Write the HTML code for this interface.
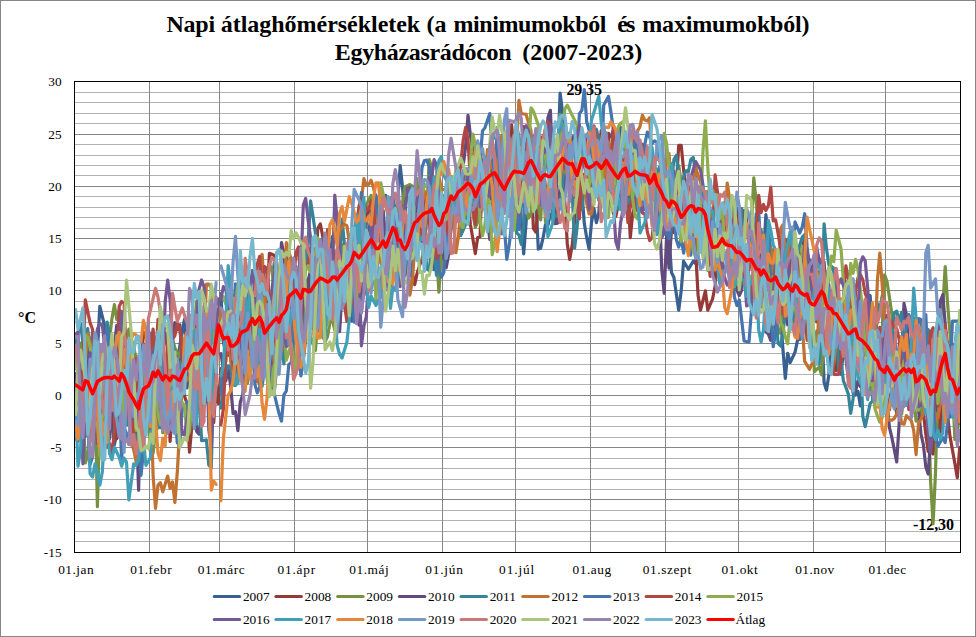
<!DOCTYPE html><html><head><meta charset="utf-8"><title>Napi átlaghőmérsékletek</title>
<style>html,body{margin:0;padding:0;background:#fff}svg{display:block}text{font-family:"Liberation Serif",serif;fill:#000}</style></head><body>
<svg width="976" height="637" viewBox="0 0 976 637">
<rect x="0" y="0" width="976" height="637" fill="#fff"/>
<rect x="0.5" y="0.5" width="975" height="636" fill="none" stroke="#868686" stroke-width="1"/>
<path d="M74.5 541.5H960.5M74.5 531.5H960.5M74.5 520.5H960.5M74.5 510.5H960.5M74.5 489.5H960.5M74.5 479.5H960.5M74.5 468.5H960.5M74.5 458.5H960.5M74.5 437.5H960.5M74.5 426.5H960.5M74.5 416.5H960.5M74.5 405.5H960.5M74.5 384.5H960.5M74.5 374.5H960.5M74.5 364.5H960.5M74.5 353.5H960.5M74.5 332.5H960.5M74.5 322.5H960.5M74.5 311.5H960.5M74.5 301.5H960.5M74.5 280.5H960.5M74.5 270.5H960.5M74.5 259.5H960.5M74.5 249.5H960.5M74.5 228.5H960.5M74.5 217.5H960.5M74.5 207.5H960.5M74.5 196.5H960.5M74.5 175.5H960.5M74.5 165.5H960.5M74.5 155.5H960.5M74.5 144.5H960.5M74.5 123.5H960.5M74.5 113.5H960.5M74.5 102.5H960.5M74.5 92.5H960.5" stroke="#b2b2b2" stroke-width="1" fill="none" shape-rendering="crispEdges"/>
<path d="M74.5 499.5H960.5M74.5 447.5H960.5M74.5 395.5H960.5M74.5 343.5H960.5M74.5 290.5H960.5M74.5 238.5H960.5M74.5 186.5H960.5M74.5 134.5H960.5M149.5 81.5V552.5M219.5 81.5V552.5M294.5 81.5V552.5M367.5 81.5V552.5M442.5 81.5V552.5M515.5 81.5V552.5M590.5 81.5V552.5M665.5 81.5V552.5M738.5 81.5V552.5M813.5 81.5V552.5M885.5 81.5V552.5" stroke="#868686" stroke-width="1" fill="none" shape-rendering="crispEdges"/>
<text x="566.4" y="95" font-size="16" font-weight="bold" textLength="35.5" lengthAdjust="spacing">29,35</text>
<text x="913" y="530" font-size="16" font-weight="bold" textLength="41" lengthAdjust="spacing">-12,30</text>
<clipPath id="pc"><rect x="74.5" y="81.5" width="886.0" height="471.0"/></clipPath>
<g clip-path="url(#pc)"><g fill="none" stroke-width="3.2" stroke-linejoin="round" stroke-linecap="round">
<path stroke="#386192" d="M75.6 402.9L78.0 402.7L80.5 410.5L82.9 405.4L85.3 358.9L87.7 378.9L90.1 364.8L92.6 346.4L95.0 374.9L97.4 351.8L99.8 306.4L102.3 316.3L104.7 326.2L107.1 355.1L109.5 394.7L111.9 423.6L114.4 444.7L116.8 433.6L119.2 404.2L121.6 417.4L124.1 360.5L126.5 357.7L128.9 358.2L131.3 359.7L133.7 345.3L136.2 407.7L138.6 377.2L141.0 368.0L143.4 418.4L145.9 386.2L148.3 400.5L150.7 366.4L153.1 379.0L155.5 387.2L158.0 358.8L160.4 404.9L162.8 385.6L165.2 393.8L167.7 375.7L170.1 389.5L172.5 358.7L174.9 352.8L177.3 362.7L179.8 346.1L182.2 330.6L184.6 319.0L187.0 373.1L189.5 340.1L191.9 331.3L194.3 333.5L196.7 364.1L199.1 317.0L201.6 393.8L204.0 348.1L206.4 311.8L208.8 397.8L211.3 395.7L213.7 412.9L216.1 367.9M220.9 293.5L223.4 342.2L225.8 353.2L228.2 327.6L230.6 298.9L233.1 315.9L235.5 353.0L237.9 338.6L240.3 327.1L242.7 340.8L245.2 354.1L247.6 345.8L250.0 319.0L252.4 323.4L254.9 335.7L257.3 360.6L259.7 367.0L262.1 311.0L264.5 347.6L267.0 368.2L269.4 319.1L271.8 297.5L274.2 263.1L276.7 272.9L279.1 306.7L281.5 358.2L283.9 299.0L286.3 248.7L288.8 282.0L291.2 320.3L293.6 290.3L296.0 302.0L298.5 321.4L300.9 324.9L303.3 303.1L305.7 280.2L308.1 299.7L310.6 282.0L313.0 292.7L315.4 273.2L317.8 322.3L320.3 332.0L322.7 300.4L325.1 303.0L327.5 271.8L329.9 260.0L332.4 236.6L334.8 239.1L337.2 231.0L339.6 248.8L342.1 269.6L344.5 289.9L346.9 314.8L349.3 316.8L351.7 320.8L354.2 295.9L356.6 280.8L359.0 282.8L361.4 312.7L363.9 285.6L366.3 266.6L368.7 232.8L371.1 215.6L373.5 230.1L376.0 258.1L378.4 207.3L380.8 208.4L383.2 197.0L385.7 195.4L388.1 212.4L390.5 210.3L392.9 214.4L395.3 212.6L397.8 200.7L400.2 165.5L402.6 187.8L405.0 226.9L407.5 256.3L409.9 251.0L412.3 236.2L414.7 235.0L417.1 223.4L419.6 203.2L422.0 201.8L424.4 200.2L426.8 203.2L429.3 210.0L431.7 228.3L434.1 269.6L436.5 236.3L438.9 245.0L441.4 227.4L443.8 240.0L446.2 205.5L448.6 228.6L451.1 225.1L453.5 211.1L455.9 212.5L458.3 190.2L460.7 198.9L463.2 206.1L465.6 213.3L468.0 184.9L470.4 182.1L472.9 204.5L475.3 200.0L477.7 210.2L480.1 162.5L482.5 191.1L485.0 186.3L487.4 173.2L489.8 199.2L492.2 196.2L494.7 159.7L497.1 162.0L499.5 164.1L501.9 159.9L504.3 157.0L506.8 149.2L509.2 158.3L511.6 153.1L514.0 177.4L516.5 154.7L518.9 176.7L521.3 221.6L523.7 253.8L526.1 222.7L528.6 177.3L531.0 156.8L533.4 136.7L535.8 197.9L538.3 249.1L540.7 248.1L543.1 237.7L545.5 224.6L547.9 225.3L550.4 214.0L552.8 216.8L555.2 213.7L557.6 161.5L560.1 93.0L562.5 111.9L564.9 129.1L567.3 138.7L569.7 155.1L572.2 198.5L574.6 196.3L577.0 190.8L579.4 188.5L581.9 190.5L584.3 223.6L586.7 237.7L589.1 249.1L591.5 222.7L594.0 208.5L596.4 222.7L598.8 213.2L601.2 178.9L603.7 145.8L606.1 142.1L608.5 137.6L610.9 136.3L613.3 130.3L615.8 150.2L618.2 147.3L620.6 127.6L623.0 129.5L625.5 156.1L627.9 157.3L630.3 146.6L632.7 145.4L635.1 163.2L637.6 143.5L640.0 167.9L642.4 166.0L644.8 168.5L647.3 199.8L649.7 164.1L652.1 160.6L654.5 186.2L656.9 178.8L659.4 188.3L661.8 231.2L664.2 233.2L666.6 219.4L669.0 237.1L671.5 272.6L673.9 277.2L676.3 293.7L678.7 310.2L681.2 290.8L683.6 261.2L686.0 265.2L688.4 269.2L690.8 265.2L693.3 261.2L695.7 263.5L698.1 251.7L700.5 230.4L703.0 209.9L705.4 235.2L707.8 242.8L710.2 265.6L712.6 262.6L715.1 280.4L717.5 243.6L719.9 252.2L722.3 275.5L724.8 269.5L727.2 260.6L729.6 259.7L732.0 269.8L734.4 252.6L736.9 208.2L739.3 243.2L741.7 248.2L744.1 257.4L746.6 244.6L749.0 287.5L751.4 294.2L753.8 277.0L756.2 274.7L758.7 228.1L761.1 256.1L763.5 256.6L765.9 214.6L768.4 237.0L770.8 284.9L773.2 303.4L775.6 312.7L778.0 288.6L780.5 315.0L782.9 348.8L785.3 378.4L787.7 353.4L790.2 362.5L792.6 357.4L795.0 352.3L797.4 340.9L799.8 319.3L802.3 312.0L804.7 255.1L807.1 254.4L809.5 260.3L812.0 267.1L814.4 284.0L816.8 288.5L819.2 272.4L821.6 322.5L824.1 382.5L826.5 390.2L828.9 374.4L831.3 343.2L833.8 339.9L836.2 346.6L838.6 351.1L841.0 374.4L843.4 350.9L845.9 330.2L848.3 342.0L850.7 311.9L853.1 352.7L855.6 395.1L858.0 391.4L860.4 406.0L862.8 384.9L865.2 317.6L867.7 304.5L870.1 295.5L872.5 325.1L874.9 380.9L877.4 363.8L879.8 372.5L882.2 334.1L884.6 376.5L887.0 383.1L889.5 409.9L891.9 389.5L894.3 394.6L896.7 384.5L899.2 365.2L901.6 383.8L904.0 371.2L906.4 386.8L908.8 358.7L911.3 355.9L913.7 374.4L916.1 390.4L918.5 347.5L921.0 354.7L923.4 338.8L925.8 328.2L928.2 366.4L930.6 399.8L933.1 391.8L935.5 381.6L937.9 354.4L940.3 386.7L942.8 392.9L945.2 379.2L947.6 342.1L950.0 416.9L952.4 398.3L954.9 401.2L957.3 372.9L959.7 403.8"/>
<path stroke="#953937" d="M75.6 420.8L78.0 441.1L80.5 401.1L82.9 337.2L85.3 395.2L87.7 333.6L90.1 375.0L92.6 409.9L95.0 418.3L97.4 439.6L99.8 367.3L102.3 358.1L104.7 393.7L107.1 388.4L109.5 420.3L111.9 424.8L114.4 373.1L116.8 438.7L119.2 435.0L121.6 410.3L124.1 366.2L126.5 347.8L128.9 380.7L131.3 414.1L133.7 391.1L136.2 407.1L138.6 414.2L141.0 370.4L143.4 331.9L145.9 335.0L148.3 353.9L150.7 352.7L153.1 417.7L155.5 409.8L158.0 418.4L160.4 346.9L162.8 349.9L165.2 359.8L167.7 374.9L170.1 441.4L172.5 408.3L174.9 352.1L177.3 381.4L179.8 352.9L182.2 345.1L184.6 396.4L187.0 403.4L189.5 452.2L191.9 425.9L194.3 379.9L196.7 308.1L199.1 377.4L201.6 379.1L204.0 325.1L206.4 395.2L208.8 334.7L211.3 366.4L213.7 422.7L216.1 385.8L218.5 403.7L220.9 368.7L223.4 380.3L225.8 334.6L228.2 355.3L230.6 350.4L233.1 373.8L235.5 372.6L237.9 326.5L240.3 314.5L242.7 337.8L245.2 367.8L247.6 327.0L250.0 301.0L252.4 314.0L254.9 314.8L257.3 344.4L259.7 370.8L262.1 374.1L264.5 365.7L267.0 302.1L269.4 253.3L271.8 254.3L274.2 255.3L276.7 271.2L279.1 285.3L281.5 303.8L283.9 312.1L286.3 294.0L288.8 301.1L291.2 283.6L293.6 334.6L296.0 266.4L298.5 308.0L300.9 312.1L303.3 342.7L305.7 322.2L308.1 284.7L310.6 272.7L313.0 257.2L315.4 266.5L317.8 228.5L320.3 223.9L322.7 236.3L325.1 250.3L327.5 263.9L329.9 267.2L332.4 255.0L334.8 297.6L337.2 316.2L339.6 322.8L342.1 290.3L344.5 265.2L346.9 270.9L349.3 235.2L351.7 259.2L354.2 288.7L356.6 279.4L359.0 307.8L361.4 305.2L363.9 245.5L366.3 217.6L368.7 209.1L371.1 212.2L373.5 216.2L376.0 196.9L378.4 232.1L380.8 232.7L383.2 214.9L385.7 240.8L388.1 248.8L390.5 234.2L392.9 225.5L395.3 221.5L397.8 231.9L400.2 215.0L402.6 266.8L405.0 274.2L407.5 255.9L409.9 253.8L412.3 272.7L414.7 284.7L417.1 273.4L419.6 265.3L422.0 259.7L424.4 242.2L426.8 196.7L429.3 197.3L431.7 183.5L434.1 200.3L436.5 244.5L438.9 254.0L441.4 259.1L443.8 219.6L446.2 241.6L448.6 199.4L451.1 185.5L453.5 218.4L455.9 198.6L458.3 172.0L460.7 184.8L463.2 175.5L465.6 204.7L468.0 197.1L470.4 224.4L472.9 239.0L475.3 253.6L477.7 237.6L480.1 236.7L482.5 159.1L485.0 179.2L487.4 168.3L489.8 164.5L492.2 184.4L494.7 160.6L497.1 143.8L499.5 185.4L501.9 183.1L504.3 166.2L506.8 203.8L509.2 147.1L511.6 124.8L514.0 149.5L516.5 123.9L518.9 138.4L521.3 153.5L523.7 126.7L526.1 145.1L528.6 146.7L531.0 171.5L533.4 228.3L535.8 232.1L538.3 206.0L540.7 208.2L543.1 165.2L545.5 188.5L547.9 186.4L550.4 205.6L552.8 189.9L555.2 194.0L557.6 146.7L560.1 177.1L562.5 174.0L564.9 202.6L567.3 243.9L569.7 259.4L572.2 245.3L574.6 220.5L577.0 187.3L579.4 161.3L581.9 174.8L584.3 174.7L586.7 186.5L589.1 177.5L591.5 173.2L594.0 179.0L596.4 167.8L598.8 156.6L601.2 130.7L603.7 143.2L606.1 146.0L608.5 133.4L610.9 187.2L613.3 213.0L615.8 216.4L618.2 204.9L620.6 149.5L623.0 147.7L625.5 142.5L627.9 191.7L630.3 237.7L632.7 213.2L635.1 205.6L637.6 184.4L640.0 199.2L642.4 171.7L644.8 209.3L647.3 167.7L649.7 147.8L652.1 168.4L654.5 193.0L656.9 176.7L659.4 205.7L661.8 184.6L664.2 218.9L666.6 195.3L669.0 200.5L671.5 213.1L673.9 232.6L676.3 186.1L678.7 145.3L681.2 145.3L683.6 169.8L686.0 189.5L688.4 230.9L690.8 185.8L693.3 198.2L695.7 252.3L698.1 295.4L700.5 310.2L703.0 300.5L705.4 290.8L707.8 310.2L710.2 304.5L712.6 298.8L715.1 286.3L717.5 257.8L719.9 224.5L722.3 222.8L724.8 233.1L727.2 217.3L729.6 220.2L732.0 230.6L734.4 232.3L736.9 214.0L739.3 221.8L741.7 241.6L744.1 210.6L746.6 219.6L749.0 248.1L751.4 231.7L753.8 267.2L756.2 280.0L758.7 259.2L761.1 264.6L763.5 293.1L765.9 304.9L768.4 307.1L770.8 264.6L773.2 312.6L775.6 330.3L778.0 263.6L780.5 293.7L782.9 255.9L785.3 239.4L787.7 263.2L790.2 310.9L792.6 279.2L795.0 258.8L797.4 248.0L799.8 261.6L802.3 250.2L804.7 237.0L807.1 302.4L809.5 269.1L812.0 272.9L814.4 306.7L816.8 321.9L819.2 274.1L821.6 265.1L824.1 304.9L826.5 307.8L828.9 328.4L831.3 343.4L833.8 348.5L836.2 370.6L838.6 330.2L841.0 347.3L843.4 349.6L845.9 354.6L848.3 364.8L850.7 343.4L853.1 323.5L855.6 338.6L858.0 358.1L860.4 360.8L862.8 335.2L865.2 338.6L867.7 340.7L870.1 352.4L872.5 346.6L874.9 336.4L877.4 392.3L879.8 341.5L882.2 381.7L884.6 401.5L887.0 374.0L889.5 367.7L891.9 367.4L894.3 388.4L896.7 414.9L899.2 400.2L901.6 366.8L904.0 396.2L906.4 363.4L908.8 395.7L911.3 405.3L913.7 381.3L916.1 376.8L918.5 369.2L921.0 388.9L923.4 413.1L925.8 433.9L928.2 451.5L930.6 451.1L933.1 454.0L935.5 424.0L937.9 420.1L940.3 432.2L942.8 343.4L945.2 368.8L947.6 415.5L950.0 436.4L952.4 449.8L954.9 463.8L957.3 477.7L959.7 447.3"/>
<path stroke="#769140" d="M75.6 361.7L78.0 374.8L80.5 343.0L82.9 408.7L85.3 463.0L87.7 455.5L90.1 425.7L92.6 355.0L95.0 392.1L97.4 506.6L99.8 421.1L102.3 361.0L104.7 356.0L107.1 350.7L109.5 338.6L111.9 318.8L114.4 304.7L116.8 319.6L119.2 309.7L121.6 320.8L124.1 340.0L126.5 339.5L128.9 329.1L131.3 339.0L133.7 346.8L136.2 359.4L138.6 415.4L141.0 370.1L143.4 372.2L145.9 424.5L148.3 419.9L150.7 454.6L153.1 453.2L155.5 431.3L158.0 427.6L160.4 383.8L162.8 432.7L165.2 413.0L167.7 390.4L170.1 340.1L172.5 338.8L174.9 347.9L177.3 352.5L179.8 356.9L182.2 338.1L184.6 367.3L187.0 358.0L189.5 353.0L191.9 343.0L194.3 346.6L196.7 300.8L199.1 320.9L201.6 330.0L204.0 327.4L206.4 318.9L208.8 320.1L211.3 322.9L213.7 307.9L216.1 352.4M220.9 384.9L223.4 356.0L225.8 369.9L228.2 376.1L230.6 371.4L233.1 342.6L235.5 324.5L237.9 320.8L240.3 284.7L242.7 324.8L245.2 384.9L247.6 382.7L250.0 362.9L252.4 308.8L254.9 274.3L257.3 311.6L259.7 271.2L262.1 265.4L264.5 278.7L267.0 282.9L269.4 264.6L271.8 268.3L274.2 289.6L276.7 289.0L279.1 351.6L281.5 330.0L283.9 327.7L286.3 306.5L288.8 293.1L291.2 341.7L293.6 283.4L296.0 301.3L298.5 283.2L300.9 337.4L303.3 307.2L305.7 340.2L308.1 329.2L310.6 335.9L313.0 344.3L315.4 350.5L317.8 320.1L320.3 286.4L322.7 320.6L325.1 341.9L327.5 336.7L329.9 322.7L332.4 319.6L334.8 330.5L337.2 290.5L339.6 257.1L342.1 244.5L344.5 271.6L346.9 290.7L349.3 275.9L351.7 298.9L354.2 260.0L356.6 263.1L359.0 277.7L361.4 234.7L363.9 212.0L366.3 204.9L368.7 199.8L371.1 195.5L373.5 226.3L376.0 242.5L378.4 223.6L380.8 260.2L383.2 259.6L385.7 252.1L388.1 211.6L390.5 197.6L392.9 203.0L395.3 213.8L397.8 210.9L400.2 202.6L402.6 203.0L405.0 186.7L407.5 185.6L409.9 184.5L412.3 186.1L414.7 187.8L417.1 178.5L419.6 240.4L422.0 229.2L424.4 246.4L426.8 209.3L429.3 159.7L431.7 168.0L434.1 198.5L436.5 251.9L438.9 292.2L441.4 250.9L443.8 195.4L446.2 233.5L448.6 222.2L451.1 215.6L453.5 192.5L455.9 191.0L458.3 203.4L460.7 218.5L463.2 217.4L465.6 201.1L468.0 191.1L470.4 179.6L472.9 214.0L475.3 227.4L477.7 221.8L480.1 205.8L482.5 203.3L485.0 197.6L487.4 195.9L489.8 206.1L492.2 222.8L494.7 201.1L497.1 200.3L499.5 197.0L501.9 148.2L504.3 158.9L506.8 155.5L509.2 189.2L511.6 198.2L514.0 161.4L516.5 153.2L518.9 162.8L521.3 156.9L523.7 157.4L526.1 208.9L528.6 218.0L531.0 213.2L533.4 145.3L535.8 160.9L538.3 206.1L540.7 220.0L543.1 172.7L545.5 221.9L547.9 218.6L550.4 189.5L552.8 167.9L555.2 141.4L557.6 149.7L560.1 114.4L562.5 146.1L564.9 184.9L567.3 176.4L569.7 144.9L572.2 151.9L574.6 147.7L577.0 183.7L579.4 198.3L581.9 151.4L584.3 140.3L586.7 135.5L589.1 156.6L591.5 180.6L594.0 190.4L596.4 180.1L598.8 160.5L601.2 160.8L603.7 188.6L606.1 178.0L608.5 173.2L610.9 167.0L613.3 167.4L615.8 178.0L618.2 165.3L620.6 170.3L623.0 161.8L625.5 183.0L627.9 179.0L630.3 182.4L632.7 205.3L635.1 190.5L637.6 189.7L640.0 159.5L642.4 171.8L644.8 174.5L647.3 168.2L649.7 172.9L652.1 183.0L654.5 218.1L656.9 170.1L659.4 211.7L661.8 214.4L664.2 199.3L666.6 191.2L669.0 186.3L671.5 182.8L673.9 178.5L676.3 180.9L678.7 165.6L681.2 182.7L683.6 186.7L686.0 197.4L688.4 211.8L690.8 198.0L693.3 179.5L695.7 215.8L698.1 247.4L700.5 228.2L703.0 206.0L705.4 191.5L707.8 195.1L710.2 212.1L712.6 245.2L715.1 239.1L717.5 246.8L719.9 268.5L722.3 257.5L724.8 258.1L727.2 250.8L729.6 263.6L732.0 222.8L734.4 219.3L736.9 226.7L739.3 248.3L741.7 281.4L744.1 277.9L746.6 256.4L749.0 259.6L751.4 226.7L753.8 177.9L756.2 202.4L758.7 233.7L761.1 282.4L763.5 298.7L765.9 287.9L768.4 312.6L770.8 312.5L773.2 298.4L775.6 307.2L778.0 333.9L780.5 329.8L782.9 319.4L785.3 299.1L787.7 273.0L790.2 283.7L792.6 311.4L795.0 257.8L797.4 261.3L799.8 263.2L802.3 277.8L804.7 319.0L807.1 328.7L809.5 321.4L812.0 321.8L814.4 371.6L816.8 369.3L819.2 367.1L821.6 374.8L824.1 329.8L826.5 279.0L828.9 267.6L831.3 267.0L833.8 268.0L836.2 272.7L838.6 306.0L841.0 299.0L843.4 299.3L845.9 317.9L848.3 312.5L850.7 311.1L853.1 329.1L855.6 321.9L858.0 327.0L860.4 322.3L862.8 355.3L865.2 337.3L867.7 392.0L870.1 381.9L872.5 397.1L874.9 386.8L877.4 370.7L879.8 376.4L882.2 332.1L884.6 274.9L887.0 281.5L889.5 298.0L891.9 314.5L894.3 356.8L896.7 404.8L899.2 392.7L901.6 414.1L904.0 396.7L906.4 382.9L908.8 405.6L911.3 398.3L913.7 396.5L916.1 421.1L918.5 419.1L921.0 417.3L923.4 380.8L925.8 396.4L928.2 402.8L930.6 481.4L933.1 523.9L935.5 472.4L937.9 387.4L940.3 319.5L942.8 307.1L945.2 266.7L947.6 303.9L950.0 333.2L952.4 386.9L954.9 439.3L957.3 435.9L959.7 402.8"/>
<path stroke="#614A7D" d="M75.6 373.6L78.0 402.7L80.5 355.9L82.9 400.9L85.3 366.9L87.7 351.7L90.1 377.2L92.6 434.6L95.0 408.8L97.4 423.4L99.8 439.1L102.3 450.9L104.7 398.6L107.1 387.6L109.5 439.1L111.9 406.5L114.4 344.9L116.8 325.3L119.2 353.3L121.6 352.2L124.1 355.4L126.5 353.0L128.9 370.5L131.3 418.0L133.7 383.6L136.2 416.3L138.6 490.1L141.0 392.9L143.4 355.3L145.9 378.0L148.3 365.3L150.7 353.6L153.1 346.8L155.5 362.7L158.0 401.5L160.4 380.7L162.8 354.0L165.2 332.9L167.7 347.0L170.1 351.8L172.5 335.7L174.9 322.7L177.3 329.7L179.8 324.8L182.2 362.2L184.6 353.0L187.0 388.0L189.5 374.6L191.9 368.6L194.3 376.1L196.7 431.4L199.1 434.1L201.6 412.0L204.0 392.9L206.4 402.2L208.8 369.4L211.3 336.4L213.7 318.3L216.1 336.1M220.9 353.5L223.4 368.3L225.8 381.0L228.2 369.0L230.6 385.6L233.1 413.6L235.5 411.7L237.9 430.6L240.3 402.3L242.7 394.8L245.2 368.5L247.6 347.5L250.0 354.2L252.4 346.6L254.9 343.6L257.3 299.0L259.7 355.5L262.1 344.5L264.5 311.7L267.0 321.4L269.4 337.2L271.8 347.6L274.2 392.2L276.7 367.4L279.1 290.9L281.5 242.5L283.9 254.3L286.3 296.1L288.8 336.6L291.2 296.3L293.6 276.6L296.0 275.0L298.5 281.9L300.9 342.1L303.3 284.1L305.7 301.2L308.1 280.3L310.6 270.6L313.0 278.3L315.4 278.3L317.8 299.9L320.3 331.0L322.7 320.7L325.1 298.9L327.5 314.9L329.9 279.7L332.4 270.3L334.8 266.4L337.2 297.8L339.6 331.6L342.1 290.9L344.5 259.2L346.9 289.9L349.3 284.5L351.7 264.4L354.2 277.3L356.6 293.2L359.0 325.1L361.4 291.0L363.9 295.3L366.3 284.9L368.7 283.9L371.1 259.6L373.5 283.4L376.0 233.2L378.4 228.8L380.8 220.7L383.2 210.6L385.7 250.9L388.1 290.9L390.5 267.9L392.9 230.3L395.3 212.4L397.8 242.8L400.2 235.0L402.6 232.5L405.0 275.8L407.5 268.8L409.9 258.3L412.3 208.9L414.7 219.2L417.1 201.8L419.6 203.4L422.0 242.0L424.4 192.0L426.8 220.6L429.3 195.5L431.7 175.8L434.1 215.0L436.5 254.2L438.9 233.1L441.4 231.5L443.8 256.3L446.2 267.7L448.6 254.6L451.1 227.8L453.5 200.4L455.9 188.0L458.3 168.7L460.7 166.9L463.2 165.8L465.6 146.5L468.0 115.3L470.4 135.0L472.9 150.7L475.3 172.0L477.7 189.9L480.1 203.8L482.5 209.3L485.0 207.9L487.4 219.2L489.8 239.5L492.2 223.7L494.7 190.0L497.1 202.0L499.5 199.8L501.9 170.9L504.3 178.1L506.8 154.4L509.2 190.1L511.6 181.5L514.0 161.3L516.5 162.9L518.9 182.0L521.3 199.6L523.7 193.6L526.1 200.5L528.6 166.2L531.0 147.5L533.4 173.8L535.8 161.3L538.3 179.7L540.7 167.1L543.1 183.5L545.5 165.9L547.9 117.7L550.4 110.3L552.8 168.1L555.2 223.6L557.6 223.1L560.1 185.7L562.5 196.4L564.9 177.1L567.3 144.5L569.7 162.7L572.2 137.2L574.6 135.5L577.0 169.8L579.4 201.3L581.9 167.5L584.3 159.8L586.7 135.7L589.1 132.6L591.5 130.0L594.0 126.0L596.4 143.6L598.8 145.1L601.2 165.3L603.7 129.4L606.1 135.3L608.5 207.6L610.9 161.2L613.3 186.9L615.8 162.9L618.2 184.5L620.6 179.0L623.0 157.4L625.5 161.5L627.9 189.2L630.3 160.4L632.7 152.6L635.1 159.6L637.6 152.4L640.0 163.1L642.4 144.4L644.8 150.3L647.3 151.3L649.7 154.2L652.1 176.0L654.5 200.5L656.9 200.0L659.4 210.8L661.8 269.8L664.2 293.3L666.6 235.9L669.0 268.1L671.5 229.0L673.9 183.2L676.3 183.1L678.7 216.1L681.2 190.8L683.6 211.7L686.0 193.6L688.4 228.5L690.8 198.9L693.3 222.9L695.7 204.1L698.1 187.4L700.5 187.4L703.0 214.6L705.4 248.7L707.8 270.4L710.2 257.6L712.6 256.8L715.1 251.0L717.5 236.4L719.9 221.9L722.3 216.5L724.8 202.4L727.2 212.0L729.6 226.2L732.0 263.8L734.4 277.4L736.9 290.0L739.3 295.5L741.7 290.0L744.1 254.0L746.6 257.7L749.0 265.3L751.4 266.4L753.8 263.6L756.2 279.8L758.7 256.2L761.1 251.6L763.5 289.6L765.9 331.8L768.4 334.1L770.8 340.3L773.2 293.8L775.6 264.2L778.0 261.2L780.5 269.5L782.9 302.2L785.3 310.1L787.7 325.0L790.2 311.5L792.6 310.1L795.0 306.3L797.4 265.8L799.8 282.8L802.3 264.6L804.7 276.5L807.1 267.2L809.5 310.6L812.0 296.0L814.4 254.5L816.8 254.6L819.2 259.2L821.6 268.1L824.1 261.9L826.5 298.2L828.9 341.6L831.3 336.4L833.8 307.1L836.2 324.4L838.6 324.9L841.0 331.8L843.4 337.3L845.9 358.7L848.3 378.3L850.7 374.0L853.1 392.7L855.6 390.6L858.0 381.2L860.4 386.7L862.8 377.3L865.2 380.1L867.7 375.1L870.1 386.1L872.5 382.9L874.9 351.7L877.4 346.7L879.8 377.6L882.2 363.9L884.6 381.0L887.0 402.9L889.5 427.9L891.9 437.6L894.3 449.8L896.7 461.9L899.2 423.0L901.6 357.9L904.0 303.3L906.4 314.5L908.8 347.2L911.3 381.5L913.7 376.4L916.1 397.8L918.5 409.6L921.0 434.0L923.4 444.9L925.8 466.8L928.2 474.1L930.6 438.2L933.1 402.9L935.5 410.9L937.9 349.5L940.3 301.3L942.8 294.7L945.2 324.1L947.6 345.9L950.0 346.3L952.4 344.5L954.9 388.5L957.3 358.0L959.7 423.1"/>
<path stroke="#35849A" d="M75.6 345.6L78.0 332.1L80.5 323.4L82.9 342.5L85.3 335.1L87.7 328.6L90.1 351.0L92.6 332.1L95.0 429.2L97.4 431.3L99.8 361.6L102.3 357.7L104.7 359.0L107.1 322.0L109.5 332.8L111.9 345.6L114.4 358.0L116.8 375.8L119.2 390.4L121.6 385.5L124.1 355.7L126.5 424.3L128.9 425.4L131.3 399.1L133.7 433.7L136.2 451.8L138.6 426.3L141.0 417.1L143.4 402.6L145.9 382.1L148.3 423.1L150.7 333.0L153.1 364.2L155.5 395.9L158.0 422.9L160.4 427.7L162.8 372.3L165.2 384.2L167.7 369.2L170.1 385.4L172.5 343.1L174.9 354.0L177.3 399.3L179.8 362.8L182.2 383.8L184.6 363.3L187.0 370.6L189.5 351.9L191.9 346.0L194.3 378.2L196.7 414.5L199.1 393.1L201.6 440.7L204.0 440.3L206.4 439.9L208.8 465.0L211.3 468.1L213.7 369.3L216.1 376.2M220.9 408.2L223.4 386.3L225.8 371.9L228.2 366.1L230.6 366.9L233.1 384.7L235.5 385.4L237.9 376.5L240.3 350.3L242.7 353.3L245.2 290.3L247.6 308.8L250.0 306.6L252.4 335.1L254.9 305.7L257.3 339.5L259.7 384.0L262.1 386.3L264.5 369.0L267.0 375.7L269.4 331.0L271.8 316.4L274.2 362.5L276.7 347.2L279.1 298.4L281.5 339.4L283.9 363.8L286.3 335.1L288.8 284.7L291.2 274.5L293.6 293.1L296.0 275.9L298.5 285.2L300.9 269.0L303.3 242.7L305.7 267.5L308.1 241.3L310.6 200.9L313.0 216.5L315.4 233.0L317.8 267.9L320.3 283.2L322.7 308.8L325.1 268.1L327.5 287.4L329.9 279.7L332.4 278.6L334.8 298.6L337.2 290.7L339.6 256.7L342.1 219.5L344.5 245.3L346.9 261.7L349.3 258.5L351.7 276.1L354.2 270.2L356.6 301.6L359.0 289.7L361.4 250.0L363.9 289.5L366.3 270.4L368.7 258.6L371.1 273.8L373.5 236.8L376.0 228.3L378.4 258.9L380.8 225.5L383.2 273.9L385.7 257.9L388.1 250.7L390.5 264.1L392.9 268.2L395.3 267.7L397.8 249.2L400.2 272.8L402.6 270.1L405.0 271.3L407.5 216.0L409.9 241.7L412.3 209.2L414.7 249.0L417.1 242.5L419.6 234.3L422.0 215.3L424.4 237.1L426.8 268.5L429.3 270.7L431.7 242.5L434.1 246.4L436.5 275.3L438.9 243.2L441.4 252.6L443.8 246.0L446.2 255.9L448.6 220.9L451.1 176.5L453.5 194.4L455.9 191.9L458.3 206.7L460.7 235.7L463.2 230.1L465.6 224.4L468.0 203.4L470.4 208.2L472.9 196.8L475.3 189.4L477.7 167.0L480.1 174.6L482.5 169.2L485.0 194.1L487.4 177.2L489.8 170.6L492.2 194.9L494.7 216.3L497.1 170.8L499.5 155.1L501.9 157.1L504.3 180.3L506.8 188.6L509.2 139.4L511.6 141.2L514.0 197.2L516.5 232.6L518.9 234.9L521.3 244.3L523.7 225.0L526.1 167.7L528.6 154.5L531.0 172.1L533.4 195.6L535.8 203.6L538.3 198.2L540.7 172.7L543.1 186.1L545.5 147.6L547.9 161.9L550.4 191.3L552.8 220.1L555.2 215.2L557.6 216.4L560.1 204.4L562.5 186.3L564.9 151.8L567.3 162.6L569.7 193.0L572.2 191.2L574.6 248.1L577.0 228.3L579.4 199.6L581.9 209.5L584.3 186.0L586.7 180.7L589.1 152.6L591.5 139.1L594.0 136.0L596.4 129.2L598.8 140.7L601.2 166.7L603.7 160.2L606.1 196.0L608.5 189.5L610.9 191.5L613.3 166.1L615.8 172.3L618.2 208.7L620.6 199.2L623.0 160.1L625.5 199.9L627.9 203.4L630.3 197.1L632.7 204.8L635.1 207.1L637.6 196.8L640.0 207.1L642.4 200.0L644.8 183.9L647.3 209.4L649.7 199.3L652.1 164.8L654.5 165.9L656.9 173.3L659.4 167.2L661.8 185.0L664.2 178.4L666.6 179.5L669.0 214.9L671.5 183.2L673.9 159.6L676.3 155.5L678.7 174.3L681.2 200.4L683.6 177.1L686.0 170.8L688.4 171.8L690.8 159.6L693.3 157.5L695.7 175.1L698.1 218.7L700.5 200.8L703.0 206.1L705.4 233.6L707.8 249.2L710.2 258.9L712.6 257.7L715.1 242.9L717.5 268.3L719.9 268.2L722.3 250.7L724.8 238.3L727.2 232.1L729.6 206.2L732.0 206.0L734.4 216.6L736.9 228.2L739.3 217.7L741.7 208.6L744.1 276.1L746.6 259.5L749.0 250.4L751.4 211.1L753.8 269.8L756.2 228.0L758.7 242.0L761.1 229.8L763.5 250.0L765.9 254.6L768.4 230.5L770.8 250.2L773.2 250.0L775.6 302.5L778.0 343.2L780.5 346.0L782.9 333.6L785.3 312.7L787.7 268.6L790.2 308.7L792.6 327.2L795.0 310.0L797.4 257.7L799.8 244.7L802.3 237.0L804.7 234.5L807.1 283.3L809.5 295.5L812.0 359.8L814.4 354.8L816.8 331.1L819.2 364.4L821.6 307.1L824.1 223.8L826.5 248.6L828.9 265.0L831.3 266.1L833.8 271.5L836.2 310.7L838.6 370.7L841.0 360.1L843.4 380.9L845.9 387.4L848.3 393.9L850.7 413.3L853.1 398.7L855.6 367.6L858.0 312.9L860.4 351.2L862.8 416.3L865.2 426.7L867.7 415.1L870.1 403.6L872.5 401.1L874.9 369.7L877.4 303.7L879.8 309.7L882.2 295.7L884.6 346.4L887.0 343.9L889.5 377.3L891.9 333.0L894.3 312.8L896.7 311.2L899.2 321.1L901.6 312.4L904.0 355.0L906.4 352.1L908.8 398.7L911.3 363.5L913.7 318.0L916.1 320.4L918.5 328.3L921.0 336.4L923.4 328.3L925.8 341.6L928.2 329.5L930.6 344.5L933.1 373.7L935.5 372.6L937.9 369.4L940.3 401.5L942.8 331.0L945.2 333.2L947.6 394.9L950.0 360.7L952.4 362.5L954.9 346.2L957.3 324.9L959.7 377.0"/>
<path stroke="#C17230" d="M75.6 439.1L78.0 438.7L80.5 414.8L82.9 374.2L85.3 362.4L87.7 333.5L90.1 342.8L92.6 346.9L95.0 341.2L97.4 349.5L99.8 351.4L102.3 366.0L104.7 394.1L107.1 360.1L109.5 372.8L111.9 376.2L114.4 403.2L116.8 405.0L119.2 414.4L121.6 353.3L124.1 365.1L126.5 381.4L128.9 344.0L131.3 442.1L133.7 449.7L136.2 462.3L138.6 451.1L141.0 424.0L143.4 376.4L145.9 362.4L148.3 403.3L150.7 401.2L153.1 475.3L155.5 508.3L158.0 485.2L160.4 482.7L162.8 491.8L165.2 484.0L167.7 476.1L170.1 488.5L172.5 481.9L174.9 502.5L177.3 472.0L179.8 427.9L182.2 390.4L184.6 381.4L187.0 380.3L189.5 375.4L191.9 361.7L194.3 374.1L196.7 414.0L199.1 362.6L201.6 416.3L204.0 343.7L206.4 284.2L208.8 284.2L211.3 288.2L213.7 337.4L216.1 354.5L218.5 346.0L220.9 311.4L223.4 323.3L225.8 361.3L228.2 322.8L230.6 360.7L233.1 372.0L235.5 339.6L237.9 361.8L240.3 358.6L242.7 333.9L245.2 328.6L247.6 335.5L250.0 352.3L252.4 344.5L254.9 365.9L257.3 382.1L259.7 284.4L262.1 254.3L264.5 288.1L267.0 335.4L269.4 339.1L271.8 326.8L274.2 362.3L276.7 320.4L279.1 354.6L281.5 351.3L283.9 312.5L286.3 242.5L288.8 251.2L291.2 260.0L293.6 328.8L296.0 313.8L298.5 281.0L300.9 295.3L303.3 281.0L305.7 298.7L308.1 335.6L310.6 291.6L313.0 329.6L315.4 305.5L317.8 295.1L320.3 319.8L322.7 301.7L325.1 270.4L327.5 268.4L329.9 295.5L332.4 267.9L334.8 251.6L337.2 254.4L339.6 230.6L342.1 227.3L344.5 224.4L346.9 225.6L349.3 242.0L351.7 245.1L354.2 240.6L356.6 236.8L359.0 207.7L361.4 199.7L363.9 178.6L366.3 185.2L368.7 184.5L371.1 180.3L373.5 187.8L376.0 198.8L378.4 251.4L380.8 263.5L383.2 258.9L385.7 268.6L388.1 256.7L390.5 286.4L392.9 270.5L395.3 266.2L397.8 259.8L400.2 233.5L402.6 278.4L405.0 205.1L407.5 250.0L409.9 295.1L412.3 280.9L414.7 249.3L417.1 214.4L419.6 215.5L422.0 207.9L424.4 190.8L426.8 200.6L429.3 219.3L431.7 188.6L434.1 202.1L436.5 212.6L438.9 175.9L441.4 189.2L443.8 189.7L446.2 188.4L448.6 201.9L451.1 189.2L453.5 218.8L455.9 252.7L458.3 237.6L460.7 209.2L463.2 177.8L465.6 175.6L468.0 171.0L470.4 168.7L472.9 163.2L475.3 170.6L477.7 169.9L480.1 154.1L482.5 188.0L485.0 183.5L487.4 149.7L489.8 169.1L492.2 154.2L494.7 190.5L497.1 182.2L499.5 146.5L501.9 135.2L504.3 162.5L506.8 197.9L509.2 216.3L511.6 189.6L514.0 182.7L516.5 150.1L518.9 100.4L521.3 113.6L523.7 114.0L526.1 114.4L528.6 123.4L531.0 130.2L533.4 206.7L535.8 174.5L538.3 187.6L540.7 191.3L543.1 195.9L545.5 189.3L547.9 189.8L550.4 192.2L552.8 197.5L555.2 152.3L557.6 169.4L560.1 137.3L562.5 146.6L564.9 172.9L567.3 161.4L569.7 147.0L572.2 174.6L574.6 189.7L577.0 161.1L579.4 183.0L581.9 193.8L584.3 186.4L586.7 203.4L589.1 213.9L591.5 214.0L594.0 196.9L596.4 169.2L598.8 152.8L601.2 157.2L603.7 181.6L606.1 156.3L608.5 142.1L610.9 161.1L613.3 145.7L615.8 161.7L618.2 165.2L620.6 163.2L623.0 192.0L625.5 157.7L627.9 185.6L630.3 185.5L632.7 183.5L635.1 152.1L637.6 130.9L640.0 126.7L642.4 115.2L644.8 120.1L647.3 121.0L649.7 117.7L652.1 164.9L654.5 203.2L656.9 224.8L659.4 224.6L661.8 203.1L664.2 183.4L666.6 161.0L669.0 153.5L671.5 186.9L673.9 195.3L676.3 221.6L678.7 200.0L681.2 198.9L683.6 215.4L686.0 208.3L688.4 211.2L690.8 219.2L693.3 188.1L695.7 166.8L698.1 175.6L700.5 182.0L703.0 192.4L705.4 206.2L707.8 191.4L710.2 219.3L712.6 228.3L715.1 237.7L717.5 222.8L719.9 227.0L722.3 219.5L724.8 224.6L727.2 183.0L729.6 198.4L732.0 221.0L734.4 258.0L736.9 241.8L739.3 238.6L741.7 230.4L744.1 284.8L746.6 266.4L749.0 286.1L751.4 297.1L753.8 279.3L756.2 240.0L758.7 285.0L761.1 301.6L763.5 310.2L765.9 304.3L768.4 324.4L770.8 247.9L773.2 257.7L775.6 292.4L778.0 317.4L780.5 229.0L782.9 224.9L785.3 250.9L787.7 259.2L790.2 240.5L792.6 274.7L795.0 291.3L797.4 253.7L799.8 290.3L802.3 326.0L804.7 361.4L807.1 365.3L809.5 369.3L812.0 363.6L814.4 362.9L816.8 356.1L819.2 303.2L821.6 286.7L824.1 291.6L826.5 298.1L828.9 302.8L831.3 320.9L833.8 365.1L836.2 342.6L838.6 337.6L841.0 308.8L843.4 348.8L845.9 315.3L848.3 340.1L850.7 379.4L853.1 325.2L855.6 334.1L858.0 314.7L860.4 325.0L862.8 316.0L865.2 311.9L867.7 310.9L870.1 312.9L872.5 346.7L874.9 345.9L877.4 280.5L879.8 253.2L882.2 284.8L884.6 331.4L887.0 415.6L889.5 420.2L891.9 420.2L894.3 418.4L896.7 414.0L899.2 406.0L901.6 423.6L904.0 424.2L906.4 415.7L908.8 418.2L911.3 420.6L913.7 430.3L916.1 454.6L918.5 423.0L921.0 419.0L923.4 413.7L925.8 330.8L928.2 344.4L930.6 338.7L933.1 403.3L935.5 420.3L937.9 417.7L940.3 404.5L942.8 395.9L945.2 366.3L947.6 370.9L950.0 350.8L952.4 401.9L954.9 375.1L957.3 364.2L959.7 323.1"/>
<path stroke="#4575AF" d="M75.6 394.2L78.0 374.4L80.5 420.8L82.9 412.4L85.3 436.4L87.7 418.7L90.1 464.4L92.6 456.6L95.0 423.6L97.4 368.2L99.8 344.6L102.3 388.7L104.7 348.4L107.1 331.5L109.5 358.2L111.9 398.1L114.4 409.2L116.8 409.3L119.2 397.3L121.6 458.6L124.1 428.3L126.5 433.3L128.9 443.4L131.3 404.0L133.7 413.8L136.2 365.8L138.6 423.7L141.0 475.3L143.4 452.2L145.9 399.7L148.3 361.6L150.7 429.0L153.1 422.1L155.5 391.7L158.0 379.5L160.4 345.2L162.8 357.3L165.2 363.6L167.7 362.1L170.1 391.8L172.5 399.1L174.9 412.3L177.3 443.0L179.8 442.8L182.2 410.0L184.6 407.1L187.0 402.0L189.5 414.0L191.9 409.8L194.3 365.0L196.7 342.0L199.1 369.6L201.6 318.1L204.0 329.3L206.4 358.1L208.8 318.9L211.3 405.5L213.7 351.9L216.1 378.3M220.9 392.4L223.4 363.0L225.8 348.5L228.2 335.5L230.6 338.4L233.1 315.1L235.5 283.9L237.9 284.9L240.3 281.2L242.7 306.0L245.2 345.3L247.6 333.0L250.0 320.6L252.4 336.8L254.9 384.4L257.3 392.9L259.7 387.2L262.1 362.9L264.5 317.3L267.0 353.5L269.4 362.8L271.8 387.8L274.2 393.5L276.7 404.2L279.1 413.6L281.5 421.2L283.9 394.8L286.3 391.0L288.8 364.6L291.2 362.7L293.6 338.5L296.0 284.0L298.5 342.4L300.9 375.9L303.3 360.9L305.7 339.1L308.1 318.5L310.6 306.1L313.0 304.7L315.4 280.9L317.8 277.0L320.3 248.9L322.7 239.1L325.1 274.1L327.5 276.0L329.9 258.6L332.4 269.6L334.8 258.1L337.2 256.5L339.6 251.0L342.1 256.3L344.5 249.8L346.9 258.0L349.3 298.7L351.7 297.2L354.2 322.2L356.6 246.2L359.0 220.5L361.4 192.6L363.9 204.5L366.3 251.6L368.7 273.7L371.1 229.4L373.5 233.7L376.0 195.1L378.4 216.5L380.8 228.7L383.2 250.8L385.7 257.4L388.1 240.8L390.5 207.7L392.9 195.4L395.3 219.7L397.8 228.0L400.2 209.7L402.6 249.8L405.0 263.2L407.5 258.1L409.9 276.0L412.3 247.3L414.7 232.7L417.1 240.4L419.6 199.7L422.0 167.6L424.4 160.6L426.8 160.2L429.3 167.0L431.7 200.3L434.1 214.0L436.5 231.7L438.9 269.1L441.4 277.2L443.8 272.5L446.2 246.5L448.6 201.2L451.1 187.4L453.5 198.2L455.9 191.9L458.3 217.2L460.7 194.7L463.2 188.3L465.6 184.7L468.0 174.0L470.4 179.5L472.9 167.2L475.3 177.6L477.7 162.7L480.1 160.0L482.5 130.9L485.0 127.6L487.4 120.6L489.8 113.6L492.2 157.2L494.7 173.9L497.1 133.5L499.5 157.5L501.9 233.8L504.3 226.0L506.8 259.3L509.2 245.1L511.6 223.7L514.0 211.9L516.5 216.4L518.9 229.7L521.3 205.8L523.7 204.5L526.1 178.0L528.6 148.0L531.0 180.3L533.4 171.7L535.8 177.3L538.3 150.6L540.7 204.3L543.1 195.7L545.5 135.6L547.9 156.0L550.4 159.3L552.8 155.5L555.2 172.7L557.6 146.6L560.1 145.6L562.5 146.0L564.9 141.0L567.3 138.1L569.7 190.0L572.2 170.7L574.6 192.9L577.0 158.8L579.4 113.6L581.9 110.3L584.3 89.7L586.7 121.8L589.1 130.0L591.5 150.3L594.0 169.6L596.4 158.3L598.8 200.2L601.2 165.3L603.7 105.3L606.1 100.8L608.5 96.3L610.9 111.9L613.3 128.8L615.8 142.7L618.2 145.8L620.6 170.2L623.0 180.2L625.5 151.0L627.9 166.6L630.3 173.5L632.7 147.2L635.1 137.6L637.6 165.7L640.0 165.1L642.4 172.1L644.8 144.4L647.3 132.0L649.7 137.4L652.1 143.5L654.5 140.9L656.9 142.4L659.4 160.2L661.8 164.2L664.2 187.7L666.6 233.2L669.0 238.7L671.5 228.4L673.9 214.9L676.3 239.7L678.7 247.1L681.2 238.2L683.6 253.1L686.0 239.4L688.4 205.0L690.8 255.1L693.3 227.2L695.7 235.1L698.1 203.3L700.5 205.8L703.0 209.1L705.4 211.4L707.8 212.4L710.2 224.4L712.6 240.4L715.1 269.5L717.5 250.0L719.9 236.2L722.3 204.1L724.8 216.7L727.2 219.9L729.6 244.4L732.0 257.4L734.4 297.1L736.9 305.6L739.3 299.9L741.7 320.4L744.1 340.9L746.6 341.5L749.0 342.0L751.4 311.3L753.8 260.0L756.2 214.0L758.7 211.7L761.1 251.7L763.5 255.3L765.9 234.9L768.4 229.8L770.8 300.5L773.2 346.6L775.6 332.9L778.0 302.0L780.5 287.3L782.9 301.5L785.3 254.9L787.7 290.7L790.2 283.2L792.6 262.0L795.0 221.8L797.4 227.4L799.8 233.0L802.3 226.9L804.7 213.7L807.1 246.4L809.5 266.5L812.0 303.4L814.4 282.5L816.8 247.5L819.2 260.3L821.6 261.4L824.1 284.0L826.5 285.2L828.9 318.7L831.3 303.3L833.8 308.5L836.2 342.0L838.6 300.1L841.0 308.9L843.4 339.0L845.9 329.1L848.3 354.0L850.7 337.5L853.1 329.1L855.6 324.6L858.0 301.0L860.4 346.0L862.8 323.1L865.2 383.0L867.7 331.1L870.1 331.1L872.5 330.9L874.9 344.3L877.4 333.1L879.8 347.2L882.2 357.3L884.6 338.1L887.0 381.2L889.5 382.6L891.9 359.5L894.3 333.3L896.7 352.4L899.2 352.1L901.6 362.7L904.0 348.2L906.4 325.4L908.8 314.5L911.3 321.1L913.7 325.8L916.1 347.7L918.5 318.6L921.0 319.4L923.4 342.3L925.8 314.6L928.2 367.5L930.6 395.5L933.1 403.0L935.5 434.7L937.9 446.1L940.3 441.9L942.8 437.6L945.2 442.5L947.6 423.0L950.0 378.7L952.4 321.1L954.9 321.1L957.3 321.1L959.7 319.9"/>
<path stroke="#B24643" d="M75.6 410.7L78.0 426.8L80.5 426.5L82.9 364.1L85.3 299.8L87.7 311.3L90.1 322.9L92.6 329.5L95.0 368.3L97.4 443.4L99.8 427.2L102.3 362.1L104.7 424.0L107.1 447.3L109.5 443.3L111.9 452.8L114.4 432.8L116.8 377.9L119.2 306.4L121.6 301.5L124.1 303.1L126.5 364.1L128.9 418.6L131.3 411.8L133.7 432.8L136.2 358.6L138.6 416.3L141.0 380.0L143.4 396.4L145.9 368.5L148.3 357.8L150.7 347.3L153.1 329.0L155.5 362.0L158.0 319.3L160.4 329.3L162.8 365.5L165.2 417.2L167.7 342.5L170.1 315.3L172.5 339.3L174.9 335.7L177.3 323.8L179.8 327.2L182.2 353.8L184.6 360.5L187.0 345.7L189.5 343.1L191.9 377.4L194.3 336.6L196.7 394.1L199.1 409.7L201.6 339.6L204.0 332.0L206.4 329.2L208.8 333.1L211.3 314.9L213.7 323.6L216.1 382.6M220.9 424.7L223.4 409.1L225.8 357.0L228.2 320.2L230.6 348.3L233.1 361.6L235.5 354.0L237.9 313.1L240.3 337.2L242.7 364.7L245.2 363.2L247.6 356.2L250.0 327.6L252.4 335.6L254.9 290.1L257.3 264.0L259.7 256.3L262.1 302.7L264.5 266.6L267.0 268.6L269.4 294.5L271.8 348.2L274.2 330.6L276.7 346.3L279.1 330.8L281.5 297.3L283.9 273.2L286.3 317.9L288.8 318.4L291.2 267.4L293.6 280.4L296.0 252.8L298.5 247.0L300.9 288.4L303.3 260.9L305.7 264.8L308.1 265.2L310.6 248.0L313.0 247.6L315.4 252.4L317.8 248.0L320.3 258.5L322.7 254.4L325.1 308.5L327.5 229.7L329.9 266.5L332.4 252.0L334.8 256.2L337.2 258.6L339.6 260.2L342.1 258.2L344.5 305.0L346.9 321.5L349.3 252.7L351.7 269.2L354.2 305.4L356.6 227.3L359.0 206.3L361.4 198.7L363.9 204.1L366.3 209.9L368.7 208.8L371.1 200.9L373.5 203.2L376.0 258.3L378.4 275.9L380.8 297.1L383.2 249.7L385.7 262.0L388.1 249.7L390.5 226.9L392.9 236.5L395.3 222.9L397.8 254.0L400.2 273.9L402.6 218.1L405.0 252.9L407.5 252.1L409.9 248.4L412.3 247.4L414.7 230.0L417.1 215.6L419.6 238.2L422.0 218.2L424.4 235.1L426.8 200.1L429.3 230.8L431.7 230.9L434.1 222.3L436.5 258.9L438.9 254.1L441.4 241.6L443.8 237.7L446.2 232.4L448.6 199.5L451.1 189.4L453.5 194.8L455.9 199.9L458.3 181.7L460.7 165.5L463.2 140.0L465.6 127.6L468.0 139.6L470.4 181.7L472.9 207.9L475.3 224.5L477.7 197.7L480.1 216.1L482.5 202.1L485.0 188.9L487.4 211.9L489.8 207.0L492.2 212.4L494.7 176.0L497.1 221.6L499.5 201.8L501.9 192.0L504.3 176.1L506.8 164.6L509.2 137.0L511.6 148.1L514.0 148.1L516.5 166.6L518.9 151.3L521.3 166.7L523.7 149.0L526.1 162.4L528.6 142.0L531.0 173.0L533.4 154.1L535.8 157.2L538.3 150.0L540.7 136.8L543.1 139.4L545.5 129.3L547.9 121.6L550.4 125.5L552.8 153.1L555.2 177.3L557.6 154.4L560.1 169.4L562.5 157.6L564.9 168.6L567.3 142.6L569.7 132.9L572.2 166.9L574.6 176.1L577.0 191.6L579.4 218.9L581.9 177.1L584.3 184.1L586.7 177.0L589.1 137.6L591.5 128.1L594.0 127.6L596.4 139.3L598.8 166.4L601.2 149.6L603.7 153.2L606.1 155.4L608.5 170.4L610.9 165.1L613.3 127.9L615.8 146.0L618.2 165.0L620.6 167.9L623.0 159.5L625.5 189.8L627.9 222.7L630.3 206.8L632.7 196.5L635.1 204.1L637.6 210.9L640.0 209.1L642.4 212.9L644.8 213.8L647.3 231.6L649.7 240.6L652.1 237.7L654.5 214.8L656.9 227.8L659.4 217.9L661.8 212.3L664.2 194.8L666.6 228.1L669.0 213.5L671.5 218.9L673.9 219.8L676.3 197.2L678.7 220.2L681.2 232.0L683.6 226.0L686.0 200.7L688.4 214.9L690.8 236.7L693.3 243.7L695.7 237.0L698.1 218.2L700.5 240.9L703.0 241.7L705.4 244.4L707.8 256.4L710.2 276.3L712.6 234.1L715.1 174.9L717.5 192.2L719.9 222.3L722.3 265.6L724.8 269.5L727.2 266.4L729.6 247.1L732.0 219.8L734.4 222.6L736.9 220.1L739.3 237.6L741.7 262.0L744.1 284.9L746.6 266.6L749.0 270.1L751.4 252.3L753.8 248.2L756.2 231.3L758.7 195.3L761.1 212.6L763.5 204.5L765.9 210.6L768.4 205.5L770.8 187.1L773.2 220.8L775.6 219.8L778.0 233.0L780.5 248.6L782.9 312.8L785.3 316.8L787.7 303.1L790.2 273.1L792.6 229.5L795.0 243.0L797.4 255.3L799.8 280.7L802.3 301.0L804.7 314.5L807.1 340.4L809.5 312.9L812.0 298.9L814.4 271.3L816.8 306.3L819.2 309.9L821.6 281.1L824.1 327.5L826.5 355.7L828.9 335.6L831.3 340.9L833.8 374.4L836.2 374.4L838.6 374.4L841.0 361.7L843.4 298.3L845.9 265.9L848.3 278.2L850.7 287.4L853.1 339.6L855.6 291.0L858.0 277.7L860.4 274.7L862.8 279.8L865.2 293.3L867.7 299.6L870.1 341.2L872.5 355.3L874.9 334.8L877.4 338.6L879.8 327.3L882.2 359.2L884.6 341.2L887.0 315.3L889.5 325.2L891.9 322.1L894.3 327.0L896.7 328.5L899.2 339.1L901.6 369.9L904.0 364.7L906.4 380.0L908.8 409.7L911.3 393.6L913.7 382.9L916.1 369.8L918.5 398.1L921.0 369.5L923.4 356.5L925.8 374.9L928.2 365.0L930.6 332.2L933.1 327.8L935.5 387.4L937.9 406.0L940.3 378.0L942.8 398.2L945.2 324.9L947.6 360.7L950.0 397.0L952.4 368.5L954.9 375.4L957.3 442.6L959.7 435.8"/>
<path stroke="#8EAD4E" d="M75.6 368.6L78.0 343.9L80.5 358.4L82.9 368.9L85.3 335.1L87.7 337.4L90.1 346.4L92.6 364.8L95.0 421.4L97.4 424.2L99.8 455.7L102.3 416.8L104.7 412.6L107.1 413.2L109.5 374.6L111.9 407.7L114.4 363.6L116.8 335.5L119.2 339.6L121.6 362.7L124.1 436.1L126.5 361.2L128.9 365.3L131.3 416.9L133.7 373.3L136.2 430.4L138.6 430.7L141.0 424.7L143.4 413.0L145.9 429.8L148.3 343.0L150.7 369.2L153.1 357.3L155.5 368.0L158.0 413.4L160.4 424.6L162.8 412.0L165.2 374.5L167.7 397.2L170.1 369.1L172.5 395.1L174.9 372.1L177.3 431.9L179.8 396.8L182.2 402.9L184.6 405.2L187.0 437.2L189.5 431.4L191.9 399.3L194.3 318.2L196.7 333.7L199.1 367.4L201.6 349.8L204.0 338.2L206.4 379.5L208.8 382.7L211.3 391.0L213.7 342.3L216.1 318.3M220.9 297.0L223.4 296.6L225.8 304.2L228.2 296.6L230.6 340.9L233.1 298.4L235.5 306.2L237.9 283.7L240.3 313.5L242.7 295.3L245.2 292.6L247.6 319.3L250.0 338.7L252.4 356.1L254.9 298.2L257.3 278.8L259.7 291.5L262.1 297.9L264.5 351.2L267.0 378.4L269.4 394.1L271.8 382.8L274.2 364.3L276.7 369.3L279.1 344.4L281.5 323.0L283.9 313.9L286.3 360.2L288.8 352.6L291.2 343.5L293.6 363.6L296.0 369.7L298.5 307.1L300.9 286.1L303.3 294.9L305.7 269.0L308.1 265.6L310.6 272.5L313.0 268.3L315.4 254.1L317.8 238.2L320.3 246.8L322.7 260.1L325.1 250.0L327.5 325.1L329.9 307.4L332.4 304.2L334.8 302.0L337.2 300.2L339.6 280.0L342.1 269.4L344.5 262.6L346.9 292.6L349.3 254.8L351.7 253.4L354.2 236.8L356.6 302.6L359.0 280.7L361.4 268.6L363.9 279.6L366.3 276.5L368.7 234.1L371.1 232.3L373.5 254.8L376.0 301.0L378.4 235.2L380.8 182.8L383.2 194.3L385.7 203.7L388.1 217.9L390.5 216.5L392.9 246.1L395.3 246.8L397.8 253.7L400.2 220.7L402.6 215.2L405.0 253.3L407.5 253.0L409.9 197.7L412.3 226.6L414.7 205.0L417.1 194.5L419.6 191.8L422.0 195.6L424.4 184.0L426.8 186.9L429.3 187.0L431.7 204.9L434.1 196.7L436.5 191.4L438.9 182.7L441.4 207.8L443.8 205.4L446.2 219.6L448.6 211.9L451.1 215.9L453.5 186.7L455.9 185.7L458.3 193.6L460.7 224.8L463.2 227.3L465.6 202.4L468.0 200.4L470.4 163.0L472.9 134.2L475.3 144.9L477.7 175.1L480.1 219.0L482.5 235.7L485.0 224.4L487.4 195.1L489.8 205.5L492.2 254.6L494.7 243.2L497.1 219.4L499.5 194.6L501.9 203.3L504.3 195.4L506.8 195.9L509.2 202.4L511.6 210.7L514.0 230.2L516.5 201.8L518.9 195.4L521.3 158.0L523.7 201.2L526.1 173.8L528.6 148.8L531.0 107.8L533.4 111.1L535.8 118.1L538.3 125.1L540.7 159.0L543.1 190.3L545.5 156.1L547.9 151.5L550.4 174.3L552.8 168.9L555.2 161.2L557.6 141.9L560.1 145.7L562.5 129.4L564.9 108.6L567.3 105.3L569.7 110.3L572.2 115.2L574.6 120.1L577.0 125.1L579.4 141.1L581.9 147.8L584.3 154.7L586.7 153.2L589.1 186.8L591.5 173.8L594.0 184.2L596.4 177.4L598.8 145.1L601.2 162.2L603.7 203.7L606.1 217.8L608.5 217.5L610.9 184.6L613.3 193.5L615.8 171.4L618.2 126.7L620.6 123.4L623.0 121.8L625.5 146.7L627.9 159.4L630.3 169.8L632.7 198.8L635.1 216.1L637.6 218.9L640.0 197.4L642.4 180.6L644.8 196.5L647.3 201.5L649.7 149.0L652.1 155.9L654.5 165.0L656.9 180.0L659.4 211.2L661.8 165.5L664.2 133.3L666.6 143.3L669.0 168.1L671.5 200.0L673.9 206.1L676.3 216.9L678.7 227.1L681.2 241.6L683.6 229.0L686.0 224.5L688.4 222.2L690.8 235.3L693.3 250.5L695.7 257.2L698.1 251.4L700.5 205.7L703.0 151.4L705.4 120.8L707.8 167.7L710.2 202.7L712.6 190.2L715.1 205.3L717.5 194.8L719.9 218.7L722.3 207.8L724.8 245.5L727.2 231.5L729.6 252.4L732.0 278.7L734.4 286.5L736.9 271.8L739.3 258.8L741.7 236.4L744.1 237.5L746.6 298.5L749.0 277.8L751.4 276.1L753.8 285.9L756.2 289.3L758.7 294.3L761.1 304.9L763.5 261.3L765.9 255.0L768.4 274.9L770.8 300.1L773.2 276.5L775.6 282.3L778.0 292.9L780.5 322.9L782.9 326.2L785.3 337.0L787.7 343.8L790.2 317.9L792.6 309.0L795.0 305.4L797.4 322.0L799.8 299.5L802.3 246.3L804.7 254.0L807.1 254.1L809.5 318.4L812.0 302.5L814.4 301.4L816.8 271.5L819.2 289.6L821.6 316.6L824.1 294.8L826.5 320.3L828.9 278.7L831.3 256.0L833.8 261.7L836.2 230.4L838.6 239.5L841.0 248.6L843.4 281.5L845.9 318.9L848.3 309.7L850.7 263.4L853.1 273.3L855.6 259.3L858.0 270.0L860.4 290.5L862.8 310.9L865.2 348.0L867.7 365.8L870.1 385.2L872.5 382.6L874.9 408.4L877.4 415.7L879.8 422.2L882.2 417.5L884.6 396.4L887.0 370.7L889.5 350.3L891.9 360.1L894.3 354.7L896.7 406.3L899.2 404.3L901.6 374.3L904.0 361.3L906.4 400.9L908.8 366.3L911.3 378.8L913.7 354.7L916.1 398.1L918.5 410.2L921.0 390.0L923.4 385.5L925.8 350.0L928.2 363.9L930.6 370.6L933.1 360.1L935.5 341.5L937.9 403.5L940.3 387.3L942.8 383.5L945.2 364.4L947.6 348.9L950.0 402.4L952.4 382.1L954.9 421.9L957.3 430.9L959.7 436.9"/>
<path stroke="#745995" d="M75.6 334.7L78.0 332.1L80.5 390.2L82.9 463.8L85.3 402.1L87.7 389.3L90.1 352.9L92.6 358.2L95.0 353.0L97.4 328.9L99.8 323.9L102.3 324.8L104.7 346.4L107.1 351.8L109.5 346.7L111.9 363.4L114.4 371.6L116.8 339.9L119.2 341.5L121.6 311.3L124.1 354.1L126.5 379.0L128.9 406.3L131.3 415.9L133.7 418.7L136.2 414.4L138.6 421.0L141.0 356.8L143.4 344.0L145.9 367.4L148.3 397.9L150.7 366.4L153.1 352.7L155.5 386.6L158.0 348.7L160.4 410.3L162.8 371.8L165.2 301.5L167.7 280.0L170.1 299.8L172.5 339.8L174.9 392.2L177.3 404.3L179.8 409.2L182.2 434.1L184.6 434.8L187.0 418.8L189.5 406.5L191.9 389.7L194.3 380.0L196.7 321.2L199.1 289.1L201.6 280.0L204.0 286.6L206.4 346.2L208.8 430.1L211.3 446.9L213.7 399.2L216.1 334.5L218.5 298.8L220.9 299.0L223.4 286.6L225.8 288.7L228.2 309.5L230.6 311.9L233.1 369.5L235.5 358.1L237.9 357.1L240.3 371.4L242.7 318.3L245.2 290.1L247.6 301.1L250.0 287.7L252.4 270.6L254.9 290.7L257.3 333.3L259.7 362.5L262.1 324.1L264.5 343.1L267.0 366.6L269.4 318.5L271.8 303.8L274.2 274.0L276.7 262.4L279.1 296.2L281.5 301.5L283.9 331.9L286.3 346.4L288.8 344.4L291.2 321.8L293.6 275.3L296.0 285.2L298.5 282.1L300.9 265.4L303.3 205.0L305.7 198.4L308.1 219.8L310.6 237.7L313.0 281.6L315.4 302.0L317.8 268.9L320.3 303.9L322.7 323.7L325.1 308.4L327.5 294.1L329.9 293.7L332.4 275.9L334.8 195.1L337.2 219.8L339.6 248.6L342.1 304.0L344.5 280.2L346.9 290.6L349.3 242.2L351.7 249.0L354.2 226.9L356.6 243.0L359.0 268.5L361.4 345.8L363.9 326.2L366.3 316.7L368.7 276.2L371.1 211.0L373.5 250.5L376.0 260.0L378.4 242.5L380.8 233.9L383.2 270.8L385.7 279.5L388.1 252.0L390.5 261.9L392.9 254.9L395.3 224.2L397.8 237.2L400.2 286.6L402.6 252.7L405.0 214.2L407.5 188.2L409.9 187.1L412.3 225.7L414.7 195.5L417.1 204.4L419.6 193.8L422.0 201.0L424.4 207.1L426.8 218.5L429.3 177.9L431.7 177.9L434.1 159.7L436.5 164.7L438.9 203.1L441.4 239.0L443.8 211.4L446.2 189.2L448.6 185.7L451.1 185.5L453.5 183.2L455.9 186.2L458.3 174.8L460.7 173.7L463.2 175.5L465.6 189.8L468.0 177.5L470.4 168.6L472.9 188.3L475.3 177.5L477.7 177.8L480.1 206.8L482.5 195.1L485.0 177.7L487.4 194.8L489.8 196.6L492.2 174.8L494.7 197.1L497.1 219.2L499.5 212.9L501.9 200.8L504.3 169.1L506.8 181.4L509.2 184.3L511.6 184.1L514.0 179.8L516.5 203.1L518.9 215.7L521.3 182.8L523.7 181.0L526.1 125.6L528.6 131.2L531.0 155.9L533.4 148.5L535.8 152.9L538.3 147.5L540.7 149.9L543.1 145.5L545.5 152.1L547.9 152.2L550.4 124.7L552.8 142.1L555.2 144.8L557.6 137.5L560.1 123.5L562.5 122.1L564.9 121.1L567.3 138.4L569.7 153.7L572.2 144.5L574.6 149.4L577.0 134.4L579.4 124.8L581.9 167.7L584.3 155.5L586.7 183.6L589.1 209.3L591.5 189.1L594.0 180.7L596.4 174.9L598.8 191.9L601.2 206.4L603.7 194.7L606.1 215.6L608.5 200.4L610.9 187.8L613.3 203.3L615.8 241.5L618.2 249.1L620.6 222.7L623.0 209.3L625.5 191.6L627.9 172.8L630.3 173.3L632.7 176.9L635.1 172.9L637.6 206.7L640.0 206.9L642.4 210.9L644.8 201.9L647.3 198.9L649.7 197.8L652.1 213.9L654.5 209.5L656.9 205.3L659.4 232.8L661.8 237.6L664.2 232.9L666.6 193.5L669.0 185.5L671.5 171.5L673.9 171.2L676.3 186.4L678.7 192.8L681.2 227.2L683.6 193.8L686.0 183.3L688.4 180.0L690.8 177.7L693.3 169.3L695.7 161.6L698.1 165.7L700.5 169.8L703.0 185.0L705.4 253.1L707.8 257.1L710.2 233.6L712.6 246.8L715.1 252.9L717.5 225.1L719.9 225.8L722.3 270.0L724.8 277.9L727.2 285.0L729.6 283.8L732.0 274.6L734.4 256.0L736.9 229.0L739.3 250.2L741.7 263.0L744.1 267.8L746.6 306.0L749.0 304.4L751.4 296.9L753.8 282.9L756.2 294.6L758.7 306.4L761.1 283.1L763.5 283.2L765.9 307.9L768.4 313.1L770.8 315.7L773.2 296.8L775.6 260.3L778.0 322.7L780.5 272.9L782.9 287.3L785.3 276.5L787.7 260.7L790.2 299.4L792.6 258.9L795.0 300.6L797.4 308.6L799.8 339.7L802.3 279.5L804.7 244.2L807.1 252.5L809.5 267.3L812.0 288.5L814.4 256.3L816.8 252.7L819.2 259.4L821.6 272.7L824.1 279.4L826.5 293.7L828.9 284.7L831.3 333.7L833.8 326.8L836.2 289.7L838.6 284.4L841.0 278.9L843.4 285.8L845.9 289.9L848.3 280.8L850.7 284.3L853.1 291.1L855.6 306.5L858.0 311.4L860.4 263.4L862.8 256.8L865.2 260.9L867.7 288.1L870.1 329.9L872.5 380.6L874.9 377.3L877.4 375.6L879.8 372.7L882.2 349.1L884.6 340.4L887.0 376.9L889.5 363.2L891.9 368.5L894.3 388.8L896.7 376.3L899.2 361.9L901.6 336.7L904.0 338.1L906.4 377.3L908.8 356.5L911.3 370.3L913.7 336.3L916.1 389.4L918.5 406.6L921.0 405.2L923.4 399.3L925.8 387.5L928.2 431.8L930.6 452.0L933.1 425.2L935.5 362.8L937.9 322.7L940.3 339.8L942.8 336.1L945.2 358.3L947.6 407.0L950.0 369.8L952.4 350.4L954.9 356.2L957.3 372.8L959.7 345.4"/>
<path stroke="#419FB8" d="M75.6 404.3L78.0 466.2L80.5 450.6L82.9 403.5L85.3 393.5L87.7 411.6L90.1 473.7L92.6 477.0L95.0 463.8L97.4 473.3L99.8 485.2L102.3 472.0L104.7 430.5L107.1 413.9L109.5 453.5L111.9 459.7L114.4 447.3L116.8 452.2L119.2 457.2L121.6 466.2L124.1 458.0L126.5 462.1L128.9 500.0L131.3 481.9L133.7 463.8L136.2 465.4L138.6 459.2L141.0 437.1L143.4 439.0L145.9 465.4L148.3 461.3L150.7 457.2L153.1 418.0L155.5 363.6L158.0 351.8L160.4 353.7L162.8 407.4L165.2 401.8L167.7 389.0L170.1 397.0L172.5 387.2L174.9 414.0L177.3 375.7L179.8 392.6L182.2 392.9L184.6 363.4L187.0 344.3L189.5 354.6L191.9 371.3L194.3 331.1L196.7 423.9L199.1 344.1L201.6 317.3L204.0 371.2L206.4 320.6L208.8 323.3L211.3 324.4L213.7 407.4L216.1 386.6M220.9 375.6L223.4 366.0L225.8 320.5L228.2 265.6L230.6 287.1L233.1 327.9L235.5 384.1L237.9 383.7L240.3 363.5L242.7 346.8L245.2 286.5L247.6 336.3L250.0 285.0L252.4 299.9L254.9 339.7L257.3 365.8L259.7 329.3L262.1 369.7L264.5 350.5L267.0 319.5L269.4 346.1L271.8 345.9L274.2 313.8L276.7 303.3L279.1 301.1L281.5 308.2L283.9 329.6L286.3 301.2L288.8 344.7L291.2 310.6L293.6 307.3L296.0 318.9L298.5 348.5L300.9 340.1L303.3 358.2L305.7 319.0L308.1 292.3L310.6 328.2L313.0 312.5L315.4 257.7L317.8 255.8L320.3 280.8L322.7 337.3L325.1 340.6L327.5 291.6L329.9 273.1L332.4 308.6L334.8 309.8L337.2 345.3L339.6 354.3L342.1 358.0L344.5 350.0L346.9 342.0L349.3 319.4L351.7 294.0L354.2 234.9L356.6 214.3L359.0 249.7L361.4 210.9L363.9 197.2L366.3 280.3L368.7 307.3L371.1 296.0L373.5 300.7L376.0 305.4L378.4 299.8L380.8 297.4L383.2 256.0L385.7 260.1L388.1 267.2L390.5 308.3L392.9 286.6L395.3 290.4L397.8 277.1L400.2 242.0L402.6 253.5L405.0 263.6L407.5 255.7L409.9 262.6L412.3 253.4L414.7 256.9L417.1 223.4L419.6 240.6L422.0 238.9L424.4 232.1L426.8 206.8L429.3 193.2L431.7 204.9L434.1 177.3L436.5 179.0L438.9 160.6L441.4 156.5L443.8 175.5L446.2 179.6L448.6 184.9L451.1 211.6L453.5 210.6L455.9 190.7L458.3 204.0L460.7 200.6L463.2 181.0L465.6 187.0L468.0 182.8L470.4 195.2L472.9 202.6L475.3 206.7L477.7 198.1L480.1 170.1L482.5 169.7L485.0 157.3L487.4 159.6L489.8 156.7L492.2 140.3L494.7 137.5L497.1 127.6L499.5 144.9L501.9 214.7L504.3 190.8L506.8 141.2L509.2 137.9L511.6 163.4L514.0 159.7L516.5 154.3L518.9 135.6L521.3 156.7L523.7 169.9L526.1 152.4L528.6 152.5L531.0 151.8L533.4 137.9L535.8 176.1L538.3 177.8L540.7 151.2L543.1 160.3L545.5 193.8L547.9 236.8L550.4 229.7L552.8 222.7L555.2 180.1L557.6 141.7L560.1 115.4L562.5 128.8L564.9 137.2L567.3 180.7L569.7 156.2L572.2 142.5L574.6 145.5L577.0 172.6L579.4 155.3L581.9 156.7L584.3 151.6L586.7 167.7L589.1 144.0L591.5 120.1L594.0 112.2L596.4 104.2L598.8 96.3L601.2 121.8L603.7 141.3L606.1 132.8L608.5 158.0L610.9 170.4L613.3 191.3L615.8 195.3L618.2 197.6L620.6 209.6L623.0 209.2L625.5 162.3L627.9 179.7L630.3 161.9L632.7 184.3L635.1 184.6L637.6 192.6L640.0 233.0L642.4 227.9L644.8 222.7L647.3 206.3L649.7 162.7L652.1 147.6L654.5 171.7L656.9 234.7L659.4 218.9L661.8 212.0L664.2 195.2L666.6 177.6L669.0 205.4L671.5 163.7L673.9 185.3L676.3 222.1L678.7 196.6L681.2 199.3L683.6 194.9L686.0 227.5L688.4 225.2L690.8 212.0L693.3 215.8L695.7 209.2L698.1 196.9L700.5 188.3L703.0 186.8L705.4 199.8L707.8 193.2L710.2 209.7L712.6 211.3L715.1 229.9L717.5 267.1L719.9 284.2L722.3 270.9L724.8 273.6L727.2 257.4L729.6 240.3L732.0 267.3L734.4 285.3L736.9 283.5L739.3 271.0L741.7 279.0L744.1 280.5L746.6 296.4L749.0 283.0L751.4 283.1L753.8 269.1L756.2 279.3L758.7 330.1L761.1 342.0L763.5 329.5L765.9 288.3L768.4 220.4L770.8 230.3L773.2 244.8L775.6 250.0L778.0 286.0L780.5 289.2L782.9 286.3L785.3 254.9L787.7 243.7L790.2 231.6L792.6 249.8L795.0 259.1L797.4 315.7L799.8 321.5L802.3 338.6L804.7 316.4L807.1 301.3L809.5 333.4L812.0 313.8L814.4 290.2L816.8 262.5L819.2 266.9L821.6 273.3L824.1 276.4L826.5 279.8L828.9 293.2L831.3 330.1L833.8 356.8L836.2 312.8L838.6 335.0L841.0 334.5L843.4 313.7L845.9 319.6L848.3 302.4L850.7 346.8L853.1 315.9L855.6 352.1L858.0 376.4L860.4 383.3L862.8 377.2L865.2 384.4L867.7 399.6L870.1 356.8L872.5 369.4L874.9 359.2L877.4 353.1L879.8 380.0L882.2 366.7L884.6 364.6L887.0 387.0L889.5 352.1L891.9 379.5L894.3 399.5L896.7 391.6L899.2 406.1L901.6 396.6L904.0 392.0L906.4 405.4L908.8 380.1L911.3 342.9L913.7 288.1L916.1 317.8L918.5 363.7L921.0 384.4L923.4 401.1L925.8 413.6L928.2 409.1L930.6 362.4L933.1 432.8L935.5 439.5L937.9 430.1L940.3 439.3L942.8 432.7L945.2 387.5L947.6 411.6L950.0 403.7L952.4 417.3L954.9 386.0L957.3 354.2L959.7 326.6"/>
<path stroke="#E6883B" d="M75.6 423.1L78.0 438.9L80.5 419.9L82.9 407.0L85.3 371.3L87.7 423.5L90.1 382.8L92.6 362.4L95.0 369.8L97.4 405.7L99.8 447.7L102.3 421.7L104.7 435.4L107.1 442.5L109.5 380.8L111.9 363.0L114.4 354.1L116.8 339.6L119.2 332.5L121.6 370.5L124.1 349.4L126.5 369.4L128.9 369.6L131.3 338.6L133.7 333.9L136.2 335.0L138.6 340.0L141.0 342.1L143.4 320.4L145.9 329.5L148.3 379.8L150.7 426.7L153.1 407.0L155.5 418.9L158.0 453.1L160.4 460.5L162.8 438.0L165.2 445.8L167.7 391.9L170.1 403.2L172.5 391.5L174.9 426.1L177.3 419.8L179.8 405.2L182.2 381.9L184.6 338.4L187.0 332.3L189.5 371.3L191.9 360.7L194.3 359.1L196.7 371.3L199.1 336.8L201.6 306.6L204.0 331.8L206.4 309.9L208.8 380.4L211.3 490.1L213.7 481.1L216.1 484.4M220.9 500.8L223.4 438.1L225.8 416.5L228.2 394.8L230.6 391.0L233.1 380.3L235.5 353.2L237.9 363.3L240.3 377.9L242.7 385.9L245.2 391.4L247.6 350.8L250.0 379.1L252.4 360.6L254.9 364.2L257.3 376.8L259.7 365.8L262.1 403.3L264.5 419.3L267.0 398.6L269.4 358.4L271.8 312.7L274.2 295.8L276.7 278.0L279.1 311.3L281.5 319.5L283.9 267.6L286.3 295.1L288.8 261.2L291.2 284.8L293.6 313.7L296.0 339.5L298.5 355.5L300.9 367.4L303.3 358.2L305.7 333.9L308.1 328.5L310.6 334.9L313.0 333.7L315.4 326.7L317.8 338.2L320.3 337.8L322.7 271.0L325.1 262.7L327.5 260.6L329.9 224.7L332.4 219.8L334.8 230.4L337.2 246.3L339.6 213.2L342.1 206.6L344.5 221.5L346.9 209.1L349.3 196.7L351.7 203.3L354.2 212.1L356.6 222.1L359.0 219.8L361.4 207.6L363.9 219.3L366.3 221.0L368.7 216.5L371.1 224.6L373.5 198.3L376.0 182.8L378.4 182.8L380.8 209.1L383.2 289.0L385.7 274.7L388.1 281.9L390.5 279.8L392.9 284.0L395.3 266.8L397.8 270.4L400.2 263.0L402.6 224.1L405.0 212.0L407.5 222.5L409.9 260.1L412.3 231.5L414.7 226.6L417.1 243.5L419.6 211.0L422.0 226.8L424.4 226.5L426.8 202.5L429.3 188.7L431.7 222.6L434.1 196.5L436.5 182.1L438.9 171.4L441.4 174.8L443.8 161.4L446.2 171.3L448.6 169.2L451.1 183.2L453.5 186.2L455.9 194.4L458.3 194.6L460.7 201.4L463.2 186.2L465.6 194.7L468.0 215.0L470.4 202.5L472.9 169.2L475.3 150.3L477.7 192.2L480.1 192.9L482.5 170.8L485.0 178.5L487.4 177.2L489.8 173.5L492.2 185.5L494.7 222.0L497.1 251.7L499.5 231.9L501.9 221.7L504.3 154.1L506.8 131.5L509.2 144.6L511.6 158.6L514.0 168.6L516.5 190.5L518.9 189.7L521.3 147.4L523.7 162.8L526.1 160.1L528.6 152.5L531.0 150.5L533.4 151.0L535.8 146.0L538.3 148.9L540.7 159.3L543.1 176.3L545.5 216.5L547.9 192.4L550.4 167.6L552.8 171.5L555.2 158.5L557.6 153.0L560.1 179.7L562.5 154.6L564.9 145.8L567.3 140.2L569.7 135.5L572.2 185.3L574.6 181.4L577.0 195.7L579.4 154.8L581.9 140.9L584.3 142.8L586.7 158.9L589.1 132.6L591.5 137.3L594.0 160.0L596.4 142.1L598.8 174.6L601.2 142.4L603.7 128.4L606.1 127.1L608.5 127.7L610.9 121.9L613.3 125.1L615.8 130.0L618.2 148.0L620.6 180.3L623.0 163.1L625.5 182.6L627.9 194.4L630.3 185.9L632.7 159.3L635.1 163.4L637.6 187.4L640.0 205.7L642.4 160.3L644.8 191.2L647.3 203.1L649.7 207.9L652.1 171.7L654.5 185.0L656.9 178.7L659.4 173.7L661.8 209.6L664.2 206.8L666.6 225.6L669.0 222.8L671.5 204.7L673.9 217.6L676.3 224.4L678.7 225.8L681.2 227.3L683.6 212.3L686.0 242.7L688.4 255.7L690.8 232.8L693.3 229.2L695.7 234.4L698.1 238.7L700.5 243.7L703.0 245.8L705.4 238.2L707.8 234.9L710.2 240.8L712.6 254.8L715.1 269.9L717.5 258.5L719.9 270.2L722.3 276.2L724.8 307.9L727.2 313.6L729.6 301.1L732.0 288.5L734.4 258.8L736.9 251.0L739.3 255.5L741.7 270.2L744.1 226.8L746.6 223.3L749.0 241.9L751.4 258.1L753.8 235.2L756.2 266.6L758.7 251.6L761.1 251.9L763.5 235.1L765.9 271.2L768.4 253.8L770.8 262.9L773.2 263.1L775.6 249.7L778.0 267.4L780.5 283.4L782.9 267.8L785.3 316.1L787.7 306.6L790.2 320.0L792.6 325.7L795.0 337.0L797.4 338.3L799.8 319.9L802.3 303.9L804.7 260.1L807.1 217.2L809.5 228.8L812.0 240.3L814.4 251.8L816.8 279.7L819.2 294.8L821.6 268.7L824.1 283.2L826.5 301.3L828.9 354.1L831.3 325.8L833.8 304.4L836.2 299.3L838.6 303.9L841.0 312.4L843.4 329.2L845.9 304.6L848.3 332.5L850.7 311.0L853.1 309.1L855.6 336.3L858.0 367.8L860.4 372.7L862.8 373.0L865.2 393.5L867.7 368.1L870.1 332.9L872.5 302.9L874.9 365.9L877.4 407.2L879.8 404.2L882.2 428.7L884.6 435.2L887.0 418.2L889.5 406.2L891.9 393.2L894.3 358.7L896.7 385.8L899.2 356.1L901.6 336.9L904.0 350.5L906.4 334.3L908.8 373.9L911.3 354.1L913.7 356.3L916.1 320.4L918.5 335.3L921.0 364.2L923.4 321.1L925.8 384.4L928.2 365.8L930.6 399.1L933.1 339.3L935.5 361.6L937.9 338.6L940.3 340.8L942.8 379.3L945.2 422.7L947.6 361.5L950.0 367.7L952.4 404.9L954.9 399.2L957.3 349.4L959.7 422.2"/>
<path stroke="#7997C5" d="M75.6 421.7L78.0 424.9L80.5 393.5L82.9 414.9L85.3 372.4L87.7 414.0L90.1 359.2L92.6 362.4L95.0 332.8L97.4 341.4L99.8 366.1L102.3 365.5L104.7 390.7L107.1 411.1L109.5 386.2L111.9 395.2L114.4 409.8L116.8 419.9L119.2 437.4L121.6 412.3L124.1 452.3L126.5 380.9L128.9 389.0L131.3 362.8L133.7 416.6L136.2 393.8L138.6 398.4L141.0 367.2L143.4 345.0L145.9 400.8L148.3 357.1L150.7 421.9L153.1 355.4L155.5 368.1L158.0 400.9L160.4 374.3L162.8 387.8L165.2 419.7L167.7 430.0L170.1 393.6L172.5 430.6L174.9 433.9L177.3 358.7L179.8 386.1L182.2 369.9L184.6 359.5L187.0 344.5L189.5 329.6L191.9 399.7L194.3 428.6L196.7 329.1L199.1 368.1L201.6 310.7L204.0 316.7L206.4 385.2L208.8 343.5L211.3 302.3L213.7 313.7L216.1 282.5M220.9 266.0L223.4 274.5L225.8 283.0L228.2 293.6L230.6 307.6L233.1 261.7L235.5 236.4L237.9 276.8L240.3 300.5L242.7 339.6L245.2 373.7L247.6 313.3L250.0 335.7L252.4 367.5L254.9 344.6L257.3 308.6L259.7 271.6L262.1 319.0L264.5 376.2L267.0 359.6L269.4 363.5L271.8 342.1L274.2 351.4L276.7 371.3L279.1 374.2L281.5 341.4L283.9 302.7L286.3 328.8L288.8 302.2L291.2 293.2L293.6 318.4L296.0 299.6L298.5 310.2L300.9 248.3L303.3 257.1L305.7 303.3L308.1 316.0L310.6 327.7L313.0 278.7L315.4 326.3L317.8 328.5L320.3 288.6L322.7 272.4L325.1 267.7L327.5 253.1L329.9 296.6L332.4 270.4L334.8 314.2L337.2 333.2L339.6 301.0L342.1 308.3L344.5 301.6L346.9 292.4L349.3 304.4L351.7 226.1L354.2 189.3L356.6 194.7L359.0 200.0L361.4 205.6L363.9 253.5L366.3 281.8L368.7 274.9L371.1 293.4L373.5 275.5L376.0 257.4L378.4 273.0L380.8 327.1L383.2 299.8L385.7 275.7L388.1 196.5L390.5 206.6L392.9 211.2L395.3 255.6L397.8 299.2L400.2 308.0L402.6 316.7L405.0 252.0L407.5 224.4L409.9 240.4L412.3 247.3L414.7 232.1L417.1 228.4L419.6 203.3L422.0 186.3L424.4 179.6L426.8 180.2L429.3 187.4L431.7 237.5L434.1 224.2L436.5 208.0L438.9 239.6L441.4 239.1L443.8 221.2L446.2 258.4L448.6 247.7L451.1 217.7L453.5 205.9L455.9 215.6L458.3 197.6L460.7 185.9L463.2 170.1L465.6 168.9L468.0 168.5L470.4 170.4L472.9 197.1L475.3 173.5L477.7 140.8L480.1 151.5L482.5 148.6L485.0 163.9L487.4 159.9L489.8 159.2L492.2 154.7L494.7 158.2L497.1 219.7L499.5 204.2L501.9 169.2L504.3 120.2L506.8 108.7L509.2 178.4L511.6 237.7L514.0 178.5L516.5 197.6L518.9 149.6L521.3 152.0L523.7 177.1L526.1 213.0L528.6 186.1L531.0 164.0L533.4 189.0L535.8 195.8L538.3 156.7L540.7 190.1L543.1 167.7L545.5 210.7L547.9 218.7L550.4 191.8L552.8 199.4L555.2 202.1L557.6 209.1L560.1 199.8L562.5 210.6L564.9 198.5L567.3 180.5L569.7 144.9L572.2 158.5L574.6 140.1L577.0 149.6L579.4 155.1L581.9 147.5L584.3 138.5L586.7 134.2L589.1 138.4L591.5 145.5L594.0 138.6L596.4 140.0L598.8 142.4L601.2 152.0L603.7 123.8L606.1 154.5L608.5 159.9L610.9 190.8L613.3 159.5L615.8 143.4L618.2 131.9L620.6 155.8L623.0 156.8L625.5 152.1L627.9 161.0L630.3 162.7L632.7 156.5L635.1 157.5L637.6 163.1L640.0 155.7L642.4 198.8L644.8 200.4L647.3 217.8L649.7 205.1L652.1 209.5L654.5 172.8L656.9 145.1L659.4 138.3L661.8 135.8L664.2 170.0L666.6 175.2L669.0 170.2L671.5 179.6L673.9 195.8L676.3 206.0L678.7 195.9L681.2 193.4L683.6 193.4L686.0 206.3L688.4 235.5L690.8 238.6L693.3 238.1L695.7 258.3L698.1 254.7L700.5 268.7L703.0 266.9L705.4 245.9L707.8 234.5L710.2 242.5L712.6 221.4L715.1 249.4L717.5 262.8L719.9 224.0L722.3 249.7L724.8 252.8L727.2 271.5L729.6 248.9L732.0 228.9L734.4 223.9L736.9 192.2L739.3 206.5L741.7 241.2L744.1 237.8L746.6 208.4L749.0 216.0L751.4 226.9L753.8 243.8L756.2 256.5L758.7 291.3L761.1 301.8L763.5 299.1L765.9 329.2L768.4 331.4L770.8 294.1L773.2 324.1L775.6 300.4L778.0 268.9L780.5 275.8L782.9 244.7L785.3 202.4L787.7 215.7L790.2 229.0L792.6 226.9L795.0 248.1L797.4 276.6L799.8 300.8L802.3 275.7L804.7 301.8L807.1 318.4L809.5 291.3L812.0 322.6L814.4 320.0L816.8 278.0L819.2 292.6L821.6 265.5L824.1 273.5L826.5 296.3L828.9 321.2L831.3 348.2L833.8 346.9L836.2 347.2L838.6 309.7L841.0 306.5L843.4 317.9L845.9 341.3L848.3 280.8L850.7 295.8L853.1 278.9L855.6 311.3L858.0 332.1L860.4 301.5L862.8 356.8L865.2 380.7L867.7 373.8L870.1 379.0L872.5 367.3L874.9 347.2L877.4 330.0L879.8 336.5L882.2 336.3L884.6 321.8L887.0 319.7L889.5 350.0L891.9 401.7L894.3 408.9L896.7 380.4L899.2 389.1L901.6 408.3L904.0 406.4L906.4 363.6L908.8 362.0L911.3 380.7L913.7 392.0L916.1 406.5L918.5 333.9L921.0 343.4L923.4 336.8L925.8 252.7L928.2 245.3L930.6 288.1L933.1 283.6L935.5 279.0L937.9 314.5L940.3 309.6L942.8 333.6L945.2 354.3L947.6 378.8L950.0 403.0L952.4 414.0L954.9 394.0L957.3 370.4L959.7 406.8"/>
<path stroke="#C87978" d="M75.6 345.6L78.0 366.0L80.5 392.4L82.9 396.1L85.3 421.0L87.7 389.9L90.1 381.7L92.6 441.9L95.0 418.2L97.4 347.0L99.8 351.6L102.3 405.6L104.7 414.2L107.1 364.4L109.5 398.3L111.9 410.5L114.4 360.6L116.8 382.9L119.2 405.5L121.6 356.6L124.1 331.5L126.5 347.4L128.9 410.5L131.3 445.4L133.7 434.5L136.2 454.0L138.6 438.2L141.0 399.2L143.4 449.6L145.9 379.6L148.3 319.2L150.7 308.9L153.1 298.6L155.5 288.3L158.0 297.3L160.4 312.3L162.8 332.6L165.2 367.0L167.7 409.6L170.1 362.7L172.5 293.2L174.9 307.2L177.3 321.2L179.8 314.6L182.2 308.0L184.6 315.5L187.0 322.9L189.5 314.8L191.9 346.0L194.3 387.6L196.7 389.2L199.1 370.9L201.6 426.7L204.0 421.3L206.4 318.0L208.8 334.3L211.3 409.3L213.7 416.5L216.1 379.5L218.5 329.3L220.9 335.9L223.4 315.6L225.8 313.3L228.2 350.0L230.6 321.8L233.1 359.5L235.5 297.6L237.9 327.9L240.3 324.0L242.7 316.1L245.2 258.4L247.6 274.8L250.0 292.8L252.4 292.2L254.9 295.6L257.3 271.3L259.7 286.0L262.1 274.3L264.5 280.6L267.0 292.4L269.4 265.8L271.8 257.9L274.2 259.2L276.7 272.5L279.1 295.5L281.5 307.1L283.9 298.1L286.3 337.8L288.8 325.7L291.2 352.3L293.6 379.7L296.0 373.1L298.5 366.5L300.9 310.7L303.3 241.1L305.7 237.3L308.1 251.8L310.6 257.4L313.0 281.5L315.4 272.5L317.8 246.0L320.3 244.5L322.7 259.6L325.1 258.7L327.5 277.6L329.9 295.6L332.4 320.4L334.8 274.5L337.2 248.2L339.6 258.4L342.1 297.8L344.5 289.3L346.9 243.4L349.3 277.2L351.7 264.7L354.2 285.4L356.6 248.3L359.0 291.9L361.4 278.0L363.9 273.5L366.3 269.6L368.7 290.7L371.1 255.4L373.5 253.2L376.0 262.5L378.4 229.1L380.8 228.5L383.2 197.0L385.7 206.5L388.1 212.4L390.5 212.6L392.9 194.6L395.3 193.2L397.8 206.1L400.2 201.9L402.6 225.1L405.0 211.4L407.5 227.8L409.9 227.2L412.3 212.4L414.7 190.7L417.1 194.3L419.6 189.8L422.0 195.7L424.4 250.2L426.8 243.3L429.3 231.6L431.7 217.0L434.1 186.3L436.5 181.8L438.9 252.9L441.4 242.3L443.8 225.4L446.2 198.1L448.6 204.9L451.1 253.6L453.5 252.7L455.9 215.7L458.3 221.9L460.7 210.6L463.2 203.4L465.6 182.2L468.0 186.0L470.4 194.7L472.9 193.4L475.3 187.3L477.7 159.9L480.1 173.8L482.5 209.9L485.0 163.4L487.4 160.7L489.8 159.3L492.2 139.3L494.7 157.3L497.1 191.7L499.5 199.4L501.9 194.3L504.3 196.8L506.8 157.2L509.2 167.7L511.6 142.8L514.0 135.1L516.5 194.7L518.9 185.9L521.3 202.4L523.7 191.8L526.1 190.3L528.6 135.3L531.0 149.0L533.4 183.8L535.8 182.9L538.3 203.9L540.7 148.9L543.1 139.3L545.5 127.7L547.9 149.1L550.4 187.0L552.8 162.2L555.2 182.5L557.6 207.7L560.1 222.7L562.5 213.2L564.9 228.3L567.3 230.8L569.7 185.8L572.2 188.8L574.6 195.6L577.0 187.3L579.4 161.1L581.9 178.9L584.3 190.5L586.7 155.4L589.1 144.6L591.5 137.6L594.0 127.2L596.4 157.9L598.8 184.4L601.2 221.7L603.7 213.2L606.1 211.3L608.5 159.1L610.9 156.2L613.3 200.7L615.8 195.2L618.2 186.7L620.6 187.7L623.0 173.2L625.5 162.1L627.9 147.2L630.3 154.5L632.7 129.9L635.1 137.6L637.6 142.1L640.0 139.9L642.4 153.9L644.8 164.1L647.3 146.7L649.7 201.9L652.1 225.8L654.5 157.3L656.9 159.2L659.4 159.9L661.8 171.0L664.2 177.9L666.6 205.6L669.0 213.9L671.5 226.0L673.9 205.2L676.3 188.4L678.7 187.2L681.2 188.9L683.6 195.7L686.0 220.5L688.4 179.3L690.8 176.3L693.3 187.9L695.7 193.4L698.1 188.0L700.5 186.6L703.0 190.0L705.4 191.9L707.8 214.2L710.2 203.1L712.6 202.3L715.1 196.6L717.5 217.4L719.9 194.3L722.3 196.3L724.8 192.2L727.2 224.1L729.6 287.6L732.0 267.3L734.4 273.4L736.9 273.0L739.3 269.9L741.7 251.1L744.1 265.1L746.6 278.5L749.0 248.8L751.4 248.3L753.8 286.1L756.2 318.1L758.7 223.0L761.1 243.2L763.5 257.2L765.9 322.7L768.4 328.0L770.8 320.9L773.2 313.0L775.6 290.6L778.0 322.8L780.5 296.0L782.9 263.6L785.3 290.4L787.7 296.1L790.2 330.1L792.6 325.2L795.0 334.0L797.4 306.0L799.8 309.0L802.3 264.8L804.7 277.6L807.1 267.7L809.5 274.7L812.0 274.4L814.4 286.9L816.8 244.8L819.2 237.8L821.6 242.0L824.1 276.6L826.5 352.0L828.9 318.4L831.3 299.3L833.8 281.6L836.2 268.3L838.6 288.2L841.0 341.0L843.4 356.5L845.9 338.2L848.3 384.6L850.7 388.4L853.1 351.5L855.6 358.2L858.0 346.6L860.4 364.3L862.8 317.7L865.2 299.2L867.7 335.5L870.1 362.1L872.5 341.3L874.9 307.9L877.4 323.1L879.8 314.9L882.2 299.3L884.6 301.4L887.0 303.1L889.5 320.5L891.9 346.7L894.3 354.9L896.7 317.1L899.2 323.7L901.6 329.8L904.0 321.3L906.4 322.8L908.8 317.1L911.3 335.1L913.7 337.8L916.1 325.8L918.5 327.3L921.0 344.8L923.4 404.2L925.8 392.8L928.2 412.1L930.6 397.7L933.1 341.6L935.5 329.1L937.9 385.7L940.3 383.0L942.8 360.0L945.2 330.3L947.6 347.2L950.0 353.6L952.4 405.0L954.9 401.7L957.3 417.1L959.7 399.8"/>
<path stroke="#AAC47E" d="M75.6 414.7L78.0 368.5L80.5 350.1L82.9 363.0L85.3 377.6L87.7 424.3L90.1 403.2L92.6 368.2L95.0 377.0L97.4 367.1L99.8 393.8L102.3 360.7L104.7 341.0L107.1 351.8L109.5 368.5L111.9 333.7L114.4 375.8L116.8 376.5L119.2 386.6L121.6 336.9L124.1 331.8L126.5 280.0L128.9 306.4L131.3 332.8L133.7 377.2L136.2 427.3L138.6 430.6L141.0 450.4L143.4 449.6L145.9 446.1L148.3 448.7L150.7 434.2L153.1 443.4L155.5 369.0L158.0 358.3L160.4 306.4L162.8 322.9L165.2 323.1L167.7 328.4L170.1 367.3L172.5 366.4L174.9 352.0L177.3 403.2L179.8 447.3L182.2 442.4L184.6 437.4L187.0 440.7L189.5 404.6L191.9 345.2L194.3 354.4L196.7 368.5L199.1 348.3L201.6 290.3L204.0 297.9L206.4 311.2L208.8 310.3L211.3 284.2L213.7 296.5L216.1 306.9M220.9 324.5L223.4 317.9L225.8 325.0L228.2 312.2L230.6 310.8L233.1 318.5L235.5 325.7L237.9 303.3L240.3 309.8L242.7 285.6L245.2 295.8L247.6 285.0L250.0 287.8L252.4 296.2L254.9 339.1L257.3 304.2L259.7 301.1L262.1 305.8L264.5 320.2L267.0 353.9L269.4 396.7L271.8 391.0L274.2 394.8L276.7 353.0L279.1 280.1L281.5 251.1L283.9 256.9L286.3 252.4L288.8 255.8L291.2 230.7L293.6 238.9L296.0 232.8L298.5 237.8L300.9 242.9L303.3 243.8L305.7 298.1L308.1 321.9L310.6 388.2L313.0 362.7L315.4 310.4L317.8 257.7L320.3 246.5L322.7 288.1L325.1 349.6L327.5 345.8L329.9 342.0L332.4 350.5L334.8 336.4L337.2 298.4L339.6 260.8L342.1 278.0L344.5 246.3L346.9 284.9L349.3 315.8L351.7 271.7L354.2 242.9L356.6 250.4L359.0 245.5L361.4 280.9L363.9 278.1L366.3 264.7L368.7 287.2L371.1 277.7L373.5 278.7L376.0 269.5L378.4 244.1L380.8 251.8L383.2 261.6L385.7 311.1L388.1 296.0L390.5 276.7L392.9 246.0L395.3 270.6L397.8 249.3L400.2 268.5L402.6 284.6L405.0 282.9L407.5 281.7L409.9 258.9L412.3 258.3L414.7 249.9L417.1 233.9L419.6 272.5L422.0 271.5L424.4 294.1L426.8 275.3L429.3 275.3L431.7 264.0L434.1 240.6L436.5 192.9L438.9 170.1L441.4 164.3L443.8 171.1L446.2 173.9L448.6 177.3L451.1 194.8L453.5 181.7L455.9 169.9L458.3 164.7L460.7 158.1L463.2 164.4L465.6 173.7L468.0 174.2L470.4 173.2L472.9 156.9L475.3 165.6L477.7 146.1L480.1 160.0L482.5 171.4L485.0 202.2L487.4 183.7L489.8 143.9L492.2 116.9L494.7 130.1L497.1 136.9L499.5 115.3L501.9 131.7L504.3 132.9L506.8 169.2L509.2 196.6L511.6 170.0L514.0 177.1L516.5 205.1L518.9 212.2L521.3 198.9L523.7 182.6L526.1 190.4L528.6 206.3L531.0 183.9L533.4 211.3L535.8 207.1L538.3 171.8L540.7 169.2L543.1 140.3L545.5 144.7L547.9 149.6L550.4 159.8L552.8 165.3L555.2 146.5L557.6 134.7L560.1 186.9L562.5 192.9L564.9 215.3L567.3 214.5L569.7 219.9L572.2 213.9L574.6 212.6L577.0 194.3L579.4 152.4L581.9 178.2L584.3 193.0L586.7 179.8L589.1 191.6L591.5 188.6L594.0 204.9L596.4 176.8L598.8 167.7L601.2 194.9L603.7 207.0L606.1 216.9L608.5 192.9L610.9 197.1L613.3 211.0L615.8 204.8L618.2 183.8L620.6 155.5L623.0 129.1L625.5 107.8L627.9 126.7L630.3 144.5L632.7 151.0L635.1 150.5L637.6 177.6L640.0 186.6L642.4 198.8L644.8 172.1L647.3 187.6L649.7 202.7L652.1 202.4L654.5 243.4L656.9 249.1L659.4 241.5L661.8 221.6L664.2 193.0L666.6 179.2L669.0 220.8L671.5 220.2L673.9 212.7L676.3 180.1L678.7 171.4L681.2 223.7L683.6 237.8L686.0 239.8L688.4 214.9L690.8 192.5L693.3 181.8L695.7 189.2L698.1 227.4L700.5 243.0L703.0 257.6L705.4 226.2L707.8 270.0L710.2 268.8L712.6 265.2L715.1 229.1L717.5 256.7L719.9 235.8L722.3 260.4L724.8 233.2L727.2 238.1L729.6 227.6L732.0 195.3L734.4 202.4L736.9 239.5L739.3 289.8L741.7 266.6L744.1 246.5L746.6 195.3L749.0 197.8L751.4 200.4L753.8 244.4L756.2 289.3L758.7 310.6L761.1 312.5L763.5 310.0L765.9 295.1L768.4 292.4L770.8 315.9L773.2 292.0L775.6 298.0L778.0 249.3L780.5 294.1L782.9 304.5L785.3 302.5L787.7 287.1L790.2 280.7L792.6 272.5L795.0 231.9L797.4 253.6L799.8 257.3L802.3 277.9L804.7 312.3L807.1 297.6L809.5 347.7L812.0 301.8L814.4 346.4L816.8 345.9L819.2 340.9L821.6 333.6L824.1 324.6L826.5 290.8L828.9 267.9L831.3 275.8L833.8 289.4L836.2 310.5L838.6 336.1L841.0 303.3L843.4 298.0L845.9 284.9L848.3 283.1L850.7 277.1L853.1 304.5L855.6 324.6L858.0 355.5L860.4 348.9L862.8 363.2L865.2 358.2L867.7 387.1L870.1 370.0L872.5 333.5L874.9 331.8L877.4 404.7L879.8 398.8L882.2 399.8L884.6 385.0L887.0 397.0L889.5 376.7L891.9 385.9L894.3 373.2L896.7 351.8L899.2 367.1L901.6 372.2L904.0 369.7L906.4 368.3L908.8 373.7L911.3 363.8L913.7 410.1L916.1 402.5L918.5 388.5L921.0 357.1L923.4 400.0L925.8 406.7L928.2 396.3L930.6 365.6L933.1 358.0L935.5 371.0L937.9 367.9L940.3 331.5L942.8 367.1L945.2 401.0L947.6 370.6L950.0 401.2L952.4 373.4L954.9 392.5L957.3 372.2L959.7 310.3"/>
<path stroke="#9785B0" d="M75.6 336.7L78.0 336.5L80.5 424.7L82.9 437.6L85.3 393.4L87.7 411.4L90.1 456.7L92.6 456.3L95.0 394.5L97.4 352.6L99.8 344.2L102.3 351.3L104.7 335.9L107.1 418.9L109.5 429.1L111.9 362.5L114.4 347.4L116.8 356.1L119.2 376.2L121.6 438.9L124.1 442.7L126.5 439.0L128.9 444.6L131.3 388.0L133.7 359.7L136.2 380.2L138.6 355.8L141.0 374.8L143.4 362.5L145.9 375.6L148.3 324.2L150.7 384.7L153.1 381.5L155.5 356.6L158.0 337.9L160.4 404.4L162.8 430.1L165.2 421.4L167.7 433.1L170.1 427.7L172.5 423.3L174.9 414.8L177.3 364.9L179.8 410.0L182.2 370.7L184.6 381.5L187.0 343.8L189.5 288.3L191.9 294.9L194.3 324.5L196.7 315.0L199.1 336.7L201.6 369.5L204.0 313.6L206.4 331.5L208.8 317.3L211.3 300.5L213.7 328.1L216.1 296.8M220.9 308.0L223.4 312.3L225.8 335.3L228.2 328.0L230.6 315.6L233.1 312.5L235.5 317.3L237.9 346.7L240.3 355.1L242.7 386.0L245.2 414.6L247.6 404.7L250.0 394.8L252.4 375.9L254.9 378.1L257.3 336.9L259.7 344.6L262.1 379.9L264.5 352.0L267.0 304.6L269.4 315.3L271.8 315.6L274.2 312.9L276.7 338.2L279.1 311.6L281.5 279.7L283.9 265.0L286.3 273.1L288.8 279.5L291.2 279.4L293.6 257.9L296.0 271.3L298.5 287.6L300.9 317.8L303.3 341.8L305.7 329.2L308.1 294.8L310.6 328.8L313.0 284.4L315.4 263.8L317.8 258.2L320.3 240.5L322.7 263.1L325.1 233.0L327.5 252.4L329.9 249.4L332.4 296.5L334.8 265.2L337.2 268.9L339.6 291.5L342.1 309.0L344.5 287.6L346.9 258.5L349.3 241.2L351.7 241.5L354.2 280.1L356.6 323.6L359.0 299.3L361.4 313.0L363.9 292.7L366.3 250.5L368.7 257.6L371.1 250.5L373.5 256.0L376.0 225.9L378.4 225.7L380.8 205.5L383.2 246.6L385.7 273.8L388.1 268.3L390.5 237.7L392.9 183.6L395.3 169.6L397.8 184.5L400.2 215.6L402.6 275.5L405.0 307.3L407.5 292.2L409.9 258.3L412.3 214.5L414.7 194.8L417.1 150.7L419.6 174.6L422.0 197.4L424.4 246.9L426.8 247.8L429.3 239.1L431.7 214.4L434.1 247.2L436.5 238.9L438.9 251.3L441.4 253.0L443.8 207.6L446.2 197.0L448.6 154.8L451.1 138.3L453.5 153.2L455.9 168.0L458.3 197.8L460.7 220.2L463.2 205.0L465.6 209.2L468.0 212.2L470.4 206.5L472.9 209.7L475.3 204.3L477.7 189.4L480.1 193.5L482.5 163.9L485.0 163.8L487.4 173.5L489.8 147.5L492.2 135.3L494.7 132.7L497.1 130.2L499.5 151.8L501.9 183.5L504.3 213.6L506.8 158.5L509.2 120.2L511.6 121.0L514.0 121.8L516.5 119.4L518.9 112.4L521.3 118.5L523.7 162.1L526.1 154.7L528.6 183.0L531.0 184.8L533.4 148.1L535.8 128.6L538.3 155.9L540.7 179.9L543.1 207.4L545.5 189.9L547.9 209.6L550.4 208.6L552.8 169.4L555.2 155.3L557.6 155.1L560.1 152.5L562.5 139.2L564.9 128.3L567.3 168.9L569.7 201.5L572.2 180.8L574.6 175.7L577.0 153.1L579.4 140.9L581.9 129.2L584.3 138.6L586.7 167.2L589.1 154.7L591.5 175.3L594.0 180.9L596.4 159.2L598.8 167.0L601.2 155.7L603.7 159.3L606.1 134.3L608.5 160.8L610.9 150.9L613.3 165.8L615.8 142.4L618.2 169.4L620.6 158.2L623.0 216.1L625.5 209.5L627.9 152.7L630.3 125.5L632.7 124.3L635.1 135.0L637.6 132.2L640.0 155.0L642.4 166.6L644.8 181.8L647.3 162.2L649.7 186.0L652.1 215.4L654.5 230.5L656.9 210.4L659.4 191.4L661.8 179.6L664.2 222.3L666.6 229.7L669.0 229.9L671.5 210.2L673.9 208.8L676.3 208.1L678.7 225.9L681.2 223.0L683.6 224.1L686.0 195.3L688.4 174.4L690.8 179.0L693.3 211.2L695.7 178.4L698.1 189.6L700.5 196.0L703.0 200.8L705.4 206.9L707.8 228.2L710.2 238.6L712.6 276.2L715.1 282.2L717.5 292.0L719.9 286.8L722.3 281.7L724.8 271.1L727.2 266.4L729.6 280.3L732.0 275.2L734.4 262.0L736.9 276.1L739.3 230.8L741.7 256.5L744.1 260.7L746.6 286.0L749.0 230.6L751.4 231.6L753.8 245.3L756.2 271.0L758.7 259.6L761.1 272.0L763.5 240.5L765.9 276.5L768.4 284.6L770.8 306.4L773.2 296.8L775.6 296.0L778.0 270.3L780.5 262.2L782.9 263.7L785.3 271.7L787.7 259.5L790.2 257.5L792.6 249.2L795.0 301.8L797.4 309.3L799.8 320.9L802.3 336.0L804.7 315.3L807.1 273.6L809.5 265.5L812.0 261.8L814.4 254.5L816.8 318.9L819.2 284.7L821.6 340.1L824.1 308.6L826.5 308.8L828.9 306.6L831.3 304.9L833.8 297.8L836.2 323.6L838.6 338.6L841.0 349.0L843.4 340.4L845.9 344.5L848.3 373.4L850.7 346.3L853.1 368.5L855.6 361.0L858.0 365.1L860.4 371.1L862.8 357.7L865.2 373.8L867.7 397.2L870.1 392.8L872.5 392.3L874.9 401.1L877.4 374.3L879.8 337.8L882.2 393.6L884.6 352.7L887.0 324.7L889.5 386.1L891.9 368.2L894.3 382.3L896.7 358.0L899.2 420.4L901.6 408.3L904.0 405.7L906.4 394.3L908.8 360.5L911.3 418.0L913.7 405.3L916.1 395.3L918.5 387.3L921.0 344.2L923.4 338.1L925.8 363.3L928.2 345.9L930.6 381.7L933.1 354.0L935.5 377.2L937.9 383.8L940.3 356.2L942.8 403.5L945.2 393.2L947.6 416.9L950.0 391.1L952.4 346.8L954.9 397.7L957.3 445.9L959.7 430.6"/>
<path stroke="#77B7CD" d="M75.6 309.7L78.0 329.5L80.5 318.8L82.9 308.0L85.3 357.9L87.7 434.2L90.1 418.2L92.6 386.7L95.0 341.1L97.4 342.9L99.8 410.5L102.3 460.0L104.7 459.7L107.1 378.4L109.5 347.7L111.9 359.8L114.4 383.7L116.8 415.3L119.2 411.4L121.6 392.0L124.1 370.3L126.5 389.0L128.9 339.1L131.3 352.3L133.7 352.1L136.2 337.7L138.6 336.1L141.0 372.1L143.4 416.7L145.9 435.4L148.3 411.9L150.7 377.1L153.1 360.5L155.5 352.9L158.0 331.6L160.4 364.5L162.8 328.5L165.2 317.1L167.7 315.8L170.1 329.9L172.5 345.3L174.9 401.3L177.3 388.9L179.8 399.7L182.2 393.1L184.6 393.3L187.0 337.2L189.5 356.1L191.9 318.9L194.3 283.3L196.7 298.2L199.1 291.6L201.6 370.6L204.0 403.5L206.4 378.6L208.8 400.6L211.3 362.9L213.7 345.3L216.1 372.0M220.9 339.9L223.4 338.0L225.8 330.8L228.2 322.8L230.6 338.4L233.1 315.7L235.5 364.0L237.9 310.2L240.3 250.7L242.7 283.0L245.2 278.2L247.6 288.2L250.0 256.6L252.4 238.4L254.9 271.7L257.3 281.1L259.7 291.8L262.1 283.4L264.5 294.2L267.0 293.0L269.4 301.4L271.8 353.3L274.2 307.8L276.7 252.2L279.1 249.2L281.5 263.1L283.9 287.4L286.3 331.8L288.8 306.6L291.2 280.6L293.6 272.2L296.0 278.9L298.5 330.5L300.9 343.0L303.3 357.1L305.7 373.1L308.1 364.6L310.6 324.7L313.0 237.9L315.4 235.6L317.8 256.7L320.3 249.1L322.7 249.8L325.1 288.2L327.5 313.1L329.9 317.5L332.4 261.9L334.8 286.0L337.2 321.7L339.6 302.9L342.1 268.0L344.5 301.4L346.9 251.9L349.3 266.1L351.7 227.9L354.2 227.8L356.6 260.2L359.0 264.2L361.4 271.4L363.9 260.1L366.3 230.3L368.7 239.0L371.1 281.5L373.5 256.7L376.0 276.7L378.4 277.6L380.8 266.7L383.2 266.5L385.7 238.9L388.1 232.8L390.5 239.7L392.9 212.2L395.3 208.3L397.8 226.1L400.2 222.8L402.6 246.1L405.0 244.8L407.5 258.4L409.9 194.0L412.3 188.7L414.7 238.4L417.1 260.7L419.6 243.6L422.0 244.6L424.4 271.4L426.8 245.8L429.3 256.8L431.7 235.6L434.1 234.1L436.5 190.2L438.9 242.9L441.4 192.7L443.8 220.3L446.2 183.7L448.6 178.7L451.1 177.2L453.5 195.7L455.9 175.5L458.3 169.6L460.7 195.0L463.2 220.9L465.6 221.1L468.0 224.4L470.4 199.3L472.9 192.8L475.3 181.5L477.7 183.3L480.1 161.1L482.5 172.1L485.0 209.6L487.4 231.9L489.8 205.7L492.2 217.9L494.7 232.0L497.1 236.5L499.5 227.5L501.9 208.8L504.3 235.7L506.8 220.6L509.2 186.5L511.6 171.8L514.0 143.0L516.5 122.0L518.9 150.3L521.3 176.7L523.7 143.4L526.1 130.1L528.6 137.6L531.0 152.7L533.4 176.3L535.8 162.0L538.3 139.1L540.7 125.9L543.1 121.0L545.5 125.1L547.9 151.5L550.4 186.8L552.8 145.3L555.2 121.9L557.6 127.4L560.1 117.5L562.5 115.4L564.9 116.1L567.3 138.0L569.7 137.8L572.2 121.6L574.6 128.5L577.0 160.6L579.4 151.3L581.9 127.7L584.3 145.8L586.7 173.9L589.1 157.1L591.5 162.7L594.0 187.6L596.4 197.1L598.8 185.0L601.2 196.0L603.7 179.9L606.1 236.8L608.5 228.8L610.9 220.8L613.3 222.7L615.8 205.8L618.2 191.3L620.6 153.1L623.0 145.2L625.5 131.6L627.9 147.3L630.3 145.3L632.7 185.4L635.1 190.1L637.6 196.5L640.0 158.0L642.4 168.0L644.8 157.2L647.3 172.5L649.7 160.9L652.1 114.4L654.5 121.4L656.9 128.4L659.4 145.1L661.8 173.2L664.2 189.3L666.6 199.6L669.0 210.8L671.5 219.0L673.9 224.9L676.3 226.0L678.7 233.7L681.2 197.4L683.6 181.3L686.0 191.2L688.4 203.9L690.8 233.2L693.3 210.3L695.7 236.3L698.1 195.4L700.5 252.5L703.0 227.8L705.4 201.9L707.8 237.1L710.2 179.0L712.6 198.9L715.1 194.3L717.5 226.3L719.9 207.7L722.3 203.0L724.8 214.0L727.2 199.1L729.6 211.0L732.0 257.3L734.4 239.9L736.9 225.5L739.3 244.6L741.7 238.0L744.1 254.0L746.6 244.7L749.0 302.6L751.4 308.7L753.8 314.7L756.2 299.5L758.7 315.4L761.1 287.1L763.5 266.9L765.9 298.2L768.4 331.4L770.8 306.4L773.2 324.1L775.6 300.0L778.0 265.6L780.5 283.2L782.9 301.0L785.3 269.9L787.7 289.2L790.2 330.0L792.6 295.6L795.0 271.8L797.4 296.0L799.8 279.4L802.3 309.0L804.7 318.2L807.1 300.4L809.5 338.8L812.0 360.9L814.4 347.0L816.8 364.3L819.2 335.8L821.6 335.3L824.1 354.4L826.5 351.0L828.9 371.8L831.3 374.4L833.8 342.2L836.2 311.1L838.6 301.5L841.0 305.5L843.4 339.9L845.9 314.9L848.3 335.1L850.7 357.9L853.1 391.1L855.6 328.1L858.0 329.6L860.4 344.9L862.8 395.4L865.2 361.3L867.7 363.7L870.1 332.7L872.5 330.4L874.9 350.8L877.4 339.6L879.8 394.7L882.2 415.1L884.6 413.0L887.0 397.2L889.5 357.5L891.9 365.1L894.3 372.5L896.7 371.1L899.2 379.2L901.6 399.2L904.0 377.5L906.4 399.5L908.8 394.6L911.3 357.8L913.7 354.5L916.1 373.8L918.5 366.5L921.0 367.8L923.4 354.5L925.8 383.7L928.2 412.5L930.6 435.3L933.1 382.7L935.5 332.7L937.9 317.1L940.3 322.1L942.8 331.8L945.2 340.8L947.6 345.6L950.0 367.6L952.4 402.3L954.9 348.8L957.3 324.1L959.7 332.2"/>
<path stroke="#FF0000" stroke-width="3.5" d="M75.6 384.9L78.0 386.6L80.5 388.2L82.9 389.8L85.3 380.7L87.7 381.9L90.1 387.8L92.6 393.7L95.0 387.9L97.4 381.6L99.8 380.1L102.3 378.5L104.7 377.8L107.1 377.5L109.5 377.6L111.9 378.3L114.4 376.2L116.8 378.6L119.2 381.0L121.6 373.6L124.1 377.6L126.5 384.2L128.9 391.8L131.3 396.0L133.7 399.9L136.2 405.1L138.6 408.8L141.0 397.2L143.4 389.2L145.9 387.2L148.3 386.2L150.7 380.5L153.1 372.2L155.5 376.6L158.0 370.8L160.4 375.2L162.8 380.0L165.2 375.8L167.7 377.7L170.1 380.5L172.5 376.1L174.9 376.9L177.3 379.0L179.8 380.5L182.2 374.7L184.6 369.1L187.0 368.1L189.5 363.1L191.9 356.3L194.3 353.8L196.7 353.8L199.1 353.8L201.6 350.4L204.0 346.8L206.4 343.1L208.8 346.6L211.3 350.2L213.7 353.8L216.1 339.4L218.5 324.9L220.9 332.2L223.4 338.9L225.8 337.7L228.2 337.6L230.6 346.1L233.1 346.0L235.5 344.4L237.9 341.1L240.3 334.2L242.7 331.4L245.2 330.7L247.6 329.2L250.0 322.9L252.4 318.7L254.9 324.3L257.3 320.4L259.7 317.4L262.1 322.2L264.5 333.2L267.0 329.8L269.4 326.3L271.8 323.3L274.2 320.4L276.7 317.8L279.1 322.1L281.5 315.3L283.9 313.2L286.3 309.3L288.8 296.8L291.2 294.2L293.6 292.1L296.0 290.0L298.5 294.7L300.9 298.4L303.3 289.4L305.7 289.7L308.1 291.8L310.6 291.2L313.0 287.2L315.4 283.5L317.8 280.7L320.3 278.0L322.7 279.1L325.1 280.5L327.5 282.0L329.9 280.8L332.4 277.2L334.8 277.0L337.2 279.8L339.6 276.5L342.1 273.3L344.5 270.0L346.9 266.7L349.3 264.9L351.7 260.9L354.2 252.4L356.6 254.9L359.0 257.8L361.4 254.5L363.9 250.9L366.3 247.2L368.7 243.5L371.1 239.8L373.5 243.3L376.0 248.6L378.4 248.6L380.8 244.9L383.2 241.0L385.7 247.2L388.1 240.6L390.5 234.1L392.9 227.6L395.3 230.8L397.8 240.0L400.2 240.0L402.6 246.5L405.0 249.4L407.5 245.0L409.9 237.2L412.3 229.5L414.7 222.5L417.1 221.3L419.6 217.9L422.0 215.4L424.4 213.3L426.8 212.4L429.3 211.9L431.7 208.5L434.1 215.1L436.5 220.6L438.9 225.5L441.4 222.6L443.8 213.8L446.2 211.3L448.6 203.2L451.1 196.0L453.5 199.6L455.9 196.5L458.3 192.0L460.7 190.2L463.2 187.9L465.6 185.5L468.0 183.1L470.4 185.0L472.9 188.8L475.3 196.7L477.7 191.0L480.1 184.5L482.5 182.8L485.0 180.7L487.4 177.9L489.8 175.6L492.2 173.9L494.7 172.9L497.1 177.1L499.5 181.4L501.9 185.6L504.3 189.4L506.8 184.3L509.2 179.1L511.6 174.6L514.0 171.3L516.5 171.7L518.9 171.9L521.3 172.5L523.7 173.5L526.1 168.4L528.6 162.4L531.0 160.6L533.4 165.1L535.8 170.8L538.3 175.6L540.7 180.0L543.1 175.8L545.5 174.5L547.9 176.4L550.4 176.5L552.8 172.7L555.2 168.9L557.6 165.4L560.1 161.9L562.5 158.4L564.9 160.4L567.3 163.1L569.7 164.0L572.2 163.7L574.6 169.5L577.0 175.4L579.4 167.1L581.9 158.8L584.3 159.0L586.7 166.2L589.1 167.9L591.5 166.6L594.0 164.8L596.4 162.5L598.8 164.8L601.2 168.3L603.7 164.8L606.1 160.5L608.5 164.4L610.9 168.3L613.3 171.8L615.8 175.3L618.2 178.2L620.6 173.3L623.0 169.7L625.5 168.2L627.9 176.1L630.3 175.5L632.7 173.7L635.1 171.3L637.6 173.0L640.0 174.5L642.4 174.8L644.8 175.0L647.3 176.4L649.7 183.1L652.1 179.9L654.5 174.5L656.9 184.3L659.4 188.6L661.8 193.4L664.2 199.1L666.6 201.4L669.0 207.1L671.5 201.1L673.9 202.1L676.3 204.8L678.7 211.0L681.2 217.3L683.6 214.7L686.0 210.9L688.4 207.5L690.8 205.7L693.3 206.4L695.7 212.0L698.1 208.4L700.5 209.1L703.0 210.4L705.4 214.8L707.8 229.4L710.2 239.5L712.6 247.3L715.1 247.0L717.5 246.2L719.9 242.6L722.3 238.7L724.8 243.6L727.2 244.9L729.6 245.5L732.0 246.0L734.4 249.1L736.9 252.6L739.3 252.0L741.7 254.2L744.1 257.6L746.6 260.9L749.0 259.5L751.4 259.8L753.8 264.3L756.2 268.9L758.7 269.6L761.1 274.8L763.5 270.1L765.9 274.1L768.4 279.3L770.8 280.7L773.2 279.4L775.6 277.1L778.0 283.2L780.5 286.9L782.9 289.7L785.3 287.9L787.7 284.0L790.2 289.3L792.6 291.2L795.0 284.9L797.4 287.1L799.8 291.8L802.3 293.8L804.7 295.2L807.1 294.1L809.5 301.8L812.0 304.3L814.4 304.9L816.8 300.2L819.2 295.6L821.6 291.4L824.1 294.5L826.5 304.8L828.9 308.3L831.3 308.8L833.8 313.5L836.2 313.8L838.6 317.6L841.0 321.6L843.4 325.7L845.9 329.7L848.3 333.8L850.7 332.8L853.1 330.4L855.6 329.0L858.0 337.8L860.4 339.5L862.8 341.1L865.2 343.9L867.7 346.7L870.1 350.5L872.5 354.7L874.9 358.9L877.4 360.6L879.8 368.3L882.2 370.0L884.6 372.5L887.0 366.5L889.5 371.3L891.9 375.1L894.3 380.1L896.7 375.4L899.2 373.6L901.6 370.7L904.0 368.6L906.4 371.8L908.8 369.2L911.3 372.4L913.7 368.9L916.1 381.9L918.5 380.2L921.0 375.6L923.4 377.4L925.8 380.1L928.2 387.4L930.6 394.3L933.1 390.3L935.5 391.6L937.9 381.3L940.3 369.8L942.8 360.2L945.2 353.6L947.6 368.1L950.0 378.5L952.4 379.5L954.9 386.9L957.3 394.2L959.7 388.4"/>
</g></g>
<rect x="74.5" y="81.5" width="886.0" height="471.0" fill="none" stroke="#000" stroke-width="1" shape-rendering="crispEdges"/>
<text y="32" font-size="24" font-weight="bold"><tspan x="166.4" textLength="48.7" lengthAdjust="spacing">Napi</tspan> <tspan x="220.8" textLength="199.4" lengthAdjust="spacing">átlaghőmérsékletek</tspan> <tspan x="426.4" textLength="20" lengthAdjust="spacing">(a</tspan> <tspan x="453.4" textLength="153.1" lengthAdjust="spacing">minimumokból</tspan> <tspan x="617.2" textLength="18.2" lengthAdjust="spacing">és</tspan> <tspan x="642.3" textLength="167.3" lengthAdjust="spacing">maximumokból)</tspan></text>
<text y="60" font-size="24" font-weight="bold"><tspan x="334.8" textLength="176.7" lengthAdjust="spacing">Egyházasrádócon</tspan> <tspan x="522.2" textLength="120" lengthAdjust="spacing">(2007-2023)</tspan></text>
<text x="61.6" y="556.6" font-size="13.33" text-anchor="end">-15</text>
<text x="61.6" y="504.4" font-size="13.33" text-anchor="end">-10</text>
<text x="61.6" y="452.1" font-size="13.33" text-anchor="end">-5</text>
<text x="61.6" y="399.9" font-size="13.33" text-anchor="end">0</text>
<text x="61.6" y="347.6" font-size="13.33" text-anchor="end">5</text>
<text x="61.6" y="295.4" font-size="13.33" text-anchor="end">10</text>
<text x="61.6" y="243.2" font-size="13.33" text-anchor="end">15</text>
<text x="61.6" y="190.9" font-size="13.33" text-anchor="end">20</text>
<text x="61.6" y="138.7" font-size="13.33" text-anchor="end">25</text>
<text x="61.6" y="86.4" font-size="13.33" text-anchor="end">30</text>
<text x="18" y="323.3" font-size="16" font-weight="bold">°C</text>
<text x="58.2" y="574" font-size="13.33" textLength="35.4" lengthAdjust="spacing">01.jan</text>
<text x="130.3" y="574" font-size="13.33" textLength="41.4" lengthAdjust="spacing">01.febr</text>
<text x="197.8" y="574" font-size="13.33" textLength="46.9" lengthAdjust="spacing">01.márc</text>
<text x="277.6" y="574" font-size="13.33" textLength="37.5" lengthAdjust="spacing">01.ápr</text>
<text x="349.2" y="574" font-size="13.33" textLength="39.5" lengthAdjust="spacing">01.máj</text>
<text x="425.3" y="574" font-size="13.33" textLength="37.5" lengthAdjust="spacing">01.jún</text>
<text x="499.1" y="574" font-size="13.33" textLength="35.2" lengthAdjust="spacing">01.júl</text>
<text x="572.6" y="574" font-size="13.33" textLength="38.5" lengthAdjust="spacing">01.aug</text>
<text x="642.8" y="574" font-size="13.33" textLength="48.3" lengthAdjust="spacing">01.szept</text>
<text x="721.4" y="574" font-size="13.33" textLength="36.3" lengthAdjust="spacing">01.okt</text>
<text x="795.2" y="574" font-size="13.33" textLength="39" lengthAdjust="spacing">01.nov</text>
<text x="868.4" y="574" font-size="13.33" textLength="37.8" lengthAdjust="spacing">01.dec</text>
<path d="M214.2 596.5H239.7" stroke="#386192" stroke-width="3" stroke-linecap="round" fill="none"/>
<text x="242.9" y="601.0" font-size="13.33">2007</text>
<path d="M275.9 596.5H301.4" stroke="#953937" stroke-width="3" stroke-linecap="round" fill="none"/>
<text x="304.6" y="601.0" font-size="13.33">2008</text>
<path d="M337.6 596.5H363.1" stroke="#769140" stroke-width="3" stroke-linecap="round" fill="none"/>
<text x="366.3" y="601.0" font-size="13.33">2009</text>
<path d="M399.3 596.5H424.8" stroke="#614A7D" stroke-width="3" stroke-linecap="round" fill="none"/>
<text x="428.0" y="601.0" font-size="13.33">2010</text>
<path d="M461.0 596.5H486.5" stroke="#35849A" stroke-width="3" stroke-linecap="round" fill="none"/>
<text x="489.7" y="601.0" font-size="13.33">2011</text>
<path d="M522.7 596.5H548.2" stroke="#C17230" stroke-width="3" stroke-linecap="round" fill="none"/>
<text x="551.4" y="601.0" font-size="13.33">2012</text>
<path d="M584.4 596.5H609.9" stroke="#4575AF" stroke-width="3" stroke-linecap="round" fill="none"/>
<text x="613.1" y="601.0" font-size="13.33">2013</text>
<path d="M646.1 596.5H671.6" stroke="#B24643" stroke-width="3" stroke-linecap="round" fill="none"/>
<text x="674.8" y="601.0" font-size="13.33">2014</text>
<path d="M707.8 596.5H733.3" stroke="#8EAD4E" stroke-width="3" stroke-linecap="round" fill="none"/>
<text x="736.5" y="601.0" font-size="13.33">2015</text>
<path d="M214.2 619.5H239.7" stroke="#745995" stroke-width="3" stroke-linecap="round" fill="none"/>
<text x="242.9" y="624.0" font-size="13.33">2016</text>
<path d="M275.9 619.5H301.4" stroke="#419FB8" stroke-width="3" stroke-linecap="round" fill="none"/>
<text x="304.6" y="624.0" font-size="13.33">2017</text>
<path d="M337.6 619.5H363.1" stroke="#E6883B" stroke-width="3" stroke-linecap="round" fill="none"/>
<text x="366.3" y="624.0" font-size="13.33">2018</text>
<path d="M399.3 619.5H424.8" stroke="#7997C5" stroke-width="3" stroke-linecap="round" fill="none"/>
<text x="428.0" y="624.0" font-size="13.33">2019</text>
<path d="M461.0 619.5H486.5" stroke="#C87978" stroke-width="3" stroke-linecap="round" fill="none"/>
<text x="489.7" y="624.0" font-size="13.33">2020</text>
<path d="M522.7 619.5H548.2" stroke="#AAC47E" stroke-width="3" stroke-linecap="round" fill="none"/>
<text x="551.4" y="624.0" font-size="13.33">2021</text>
<path d="M584.4 619.5H609.9" stroke="#9785B0" stroke-width="3" stroke-linecap="round" fill="none"/>
<text x="613.1" y="624.0" font-size="13.33">2022</text>
<path d="M646.1 619.5H671.6" stroke="#77B7CD" stroke-width="3" stroke-linecap="round" fill="none"/>
<text x="674.8" y="624.0" font-size="13.33">2023</text>
<path d="M707.8 619.5H733.3" stroke="#FF0000" stroke-width="3" stroke-linecap="round" fill="none"/>
<text x="735.5" y="624.0" font-size="13.33">Átlag</text>
</svg></body></html>
